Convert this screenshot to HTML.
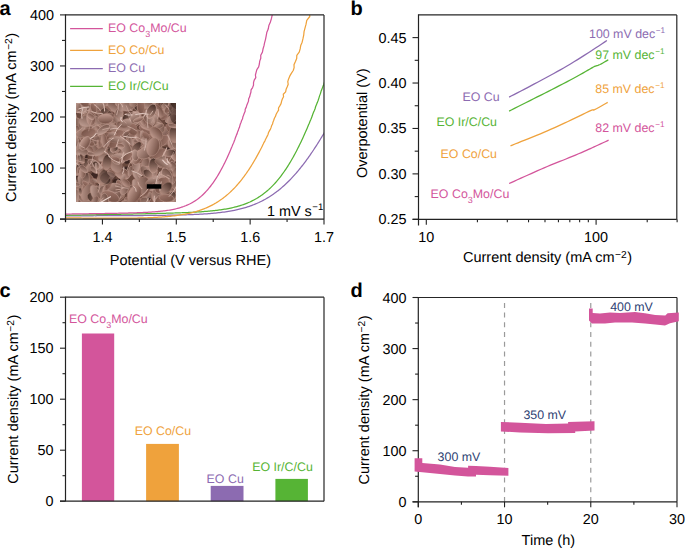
<!DOCTYPE html>
<html><head><meta charset="utf-8"><style>
html,body{margin:0;padding:0;background:#fff;}
svg{display:block;font-family:"Liberation Sans",sans-serif;text-rendering:geometricPrecision;}
</style></head><body>
<svg width="685" height="548" viewBox="0 0 685 548">
<defs>
<linearGradient id="sg0" x1="0" y1="0" x2="1" y2="1"><stop offset="0" stop-color="#624339"/><stop offset="1" stop-color="#c39f93"/></linearGradient><linearGradient id="sg1" x1="1" y1="0" x2="0" y2="1"><stop offset="0" stop-color="#6b4a3f"/><stop offset="1" stop-color="#cdaca1"/></linearGradient><linearGradient id="sg2" x1="0" y1="1" x2="1" y2="0"><stop offset="0" stop-color="#68483d"/><stop offset="1" stop-color="#ccaba0"/></linearGradient><linearGradient id="sg3" x1="0" y1="0" x2="1" y2="0"><stop offset="0" stop-color="#462f27"/><stop offset="1" stop-color="#b48e81"/></linearGradient><linearGradient id="sg4" x1="0" y1="0" x2="0" y2="1"><stop offset="0" stop-color="#724f44"/><stop offset="1" stop-color="#be998d"/></linearGradient><linearGradient id="sg5" x1="1" y1="1" x2="0" y2="0"><stop offset="0" stop-color="#704e43"/><stop offset="1" stop-color="#a1796d"/></linearGradient><clipPath id="clipsem"><rect x="76" y="103" width="100" height="99"/></clipPath>
<filter id="semblur" x="0" y="0" width="100%" height="100%"><feGaussianBlur stdDeviation="0.35"/></filter>
<clipPath id="clipa"><rect x="65.5" y="14.9" width="258.5" height="204.2"/></clipPath>

</defs>
<rect width="685" height="548" fill="#fff"/>
<text x="-0.60" y="15.20" font-size="20" text-anchor="start" fill="#000" font-weight="bold" >a</text>
<text x="350.40" y="14.80" font-size="20" text-anchor="start" fill="#000" font-weight="bold" >b</text>
<text x="-0.60" y="296.60" font-size="20" text-anchor="start" fill="#000" font-weight="bold" >c</text>
<text x="350.60" y="296.60" font-size="20" text-anchor="start" fill="#000" font-weight="bold" >d</text>
<g>
<g clip-path="url(#clipsem)" filter="url(#semblur)">
<rect x="76" y="103" width="100" height="99" fill="#69483e"/>
<ellipse cx="121.2" cy="158.4" rx="4.8" ry="2.4" fill="#3d2822"/>
<ellipse cx="126.8" cy="161.2" rx="2.6" ry="2.5" fill="#3d2822"/>
<ellipse cx="139.0" cy="181.5" rx="2.3" ry="2.1" fill="#3d2822"/>
<ellipse cx="85.1" cy="183.2" rx="4.1" ry="1.6" fill="#3d2822"/>
<ellipse cx="174.2" cy="198.5" rx="4.0" ry="2.7" fill="#3d2822"/>
<ellipse cx="91.7" cy="104.5" rx="3.6" ry="1.6" fill="#3d2822"/>
<ellipse cx="95.0" cy="127.0" rx="2.1" ry="2.4" fill="#3d2822"/>
<ellipse cx="120.1" cy="186.4" rx="3.6" ry="2.8" fill="#3d2822"/>
<ellipse cx="126.0" cy="168.6" rx="3.4" ry="2.1" fill="#3d2822"/>
<ellipse cx="175.8" cy="201.6" rx="4.5" ry="2.9" fill="#3d2822"/>
<ellipse cx="107.5" cy="125.7" rx="2.9" ry="1.6" fill="#3d2822"/>
<ellipse cx="152.6" cy="142.6" rx="4.5" ry="2.3" fill="#3d2822"/>
<ellipse cx="171.8" cy="186.9" rx="2.0" ry="1.9" fill="#3d2822"/>
<ellipse cx="167.0" cy="149.5" rx="4.9" ry="2.3" fill="#3d2822"/>
<ellipse cx="83.3" cy="165.3" rx="4.3" ry="2.0" fill="#3d2822"/>
<ellipse cx="84.7" cy="135.9" rx="4.9" ry="3.0" fill="#3d2822"/>
<ellipse cx="87.8" cy="127.4" rx="2.3" ry="1.6" fill="#3d2822"/>
<ellipse cx="155.7" cy="120.6" rx="3.7" ry="2.4" fill="#3d2822"/>
<ellipse cx="95.1" cy="175.5" rx="2.4" ry="2.8" fill="#3d2822"/>
<ellipse cx="87.7" cy="144.7" rx="2.6" ry="2.0" fill="#3d2822"/>
<ellipse cx="173.1" cy="182.5" rx="2.9" ry="3.3" fill="#3d2822"/>
<ellipse cx="97.1" cy="142.0" rx="4.6" ry="2.8" fill="#3d2822"/>
<ellipse cx="86.0" cy="200.9" rx="2.6" ry="2.0" fill="#3d2822"/>
<ellipse cx="153.3" cy="135.6" rx="2.9" ry="1.6" fill="#3d2822"/>
<ellipse cx="85.0" cy="160.7" rx="2.7" ry="2.7" fill="#3d2822"/>
<ellipse cx="113.2" cy="147.9" rx="4.9" ry="2.5" fill="#3d2822"/>
<ellipse cx="133.5" cy="188.8" rx="2.5" ry="1.8" fill="#3d2822"/>
<ellipse cx="166.8" cy="184.0" rx="2.7" ry="1.9" fill="#3d2822"/>
<ellipse cx="149.9" cy="196.1" rx="2.6" ry="3.4" fill="#3d2822"/>
<ellipse cx="164.2" cy="162.7" rx="3.3" ry="1.7" fill="#3d2822"/>
<ellipse cx="79.9" cy="198.3" rx="2.7" ry="2.9" fill="#3d2822"/>
<ellipse cx="101.7" cy="184.5" rx="3.8" ry="2.1" fill="#3d2822"/>
<ellipse cx="93.5" cy="174.3" rx="2.2" ry="2.0" fill="#3d2822"/>
<ellipse cx="131.9" cy="187.4" rx="3.8" ry="2.1" fill="#3d2822"/>
<ellipse cx="167.7" cy="123.2" rx="2.0" ry="2.0" fill="#3d2822"/>
<ellipse cx="120.6" cy="109.0" rx="2.5" ry="2.2" fill="#3d2822"/>
<ellipse cx="133.2" cy="116.0" rx="3.1" ry="3.3" fill="#3d2822"/>
<ellipse cx="174.0" cy="168.0" rx="4.1" ry="2.7" fill="#3d2822"/>
<ellipse cx="90.0" cy="106.5" rx="2.1" ry="3.3" fill="#3d2822"/>
<ellipse cx="146.1" cy="198.3" rx="2.1" ry="2.8" fill="#3d2822"/>
<ellipse cx="124.2" cy="175.3" rx="3.0" ry="3.5" fill="#3d2822"/>
<ellipse cx="83.5" cy="157.1" rx="4.2" ry="3.3" fill="#3d2822"/>
<ellipse cx="149.7" cy="172.7" rx="4.4" ry="3.3" fill="#3d2822"/>
<ellipse cx="111.2" cy="170.8" rx="4.7" ry="3.2" fill="#3d2822"/>
<ellipse cx="117.7" cy="181.3" rx="4.6" ry="2.6" fill="#3d2822"/>
<ellipse cx="139.5" cy="139.9" rx="7.0" ry="4.1" transform="rotate(14 139.5 139.9)" fill="url(#sg5)" stroke="#a0796c" stroke-width="0.5"/>
<ellipse cx="99.8" cy="143.5" rx="5.5" ry="3.7" transform="rotate(125 99.8 143.5)" fill="url(#sg3)" stroke="#b18a7e" stroke-width="0.5"/>
<ellipse cx="162.5" cy="108.0" rx="8.0" ry="3.3" transform="rotate(108 162.5 108.0)" fill="url(#sg3)" stroke="#9c7468" stroke-width="0.5"/>
<ellipse cx="175.4" cy="111.1" rx="8.2" ry="4.9" transform="rotate(88 175.4 111.1)" fill="url(#sg0)" stroke="#ad867a" stroke-width="0.5"/>
<ellipse cx="87.5" cy="164.5" rx="6.6" ry="4.1" transform="rotate(62 87.5 164.5)" fill="url(#sg3)" stroke="#b38d81" stroke-width="0.5"/>
<ellipse cx="98.1" cy="142.3" rx="5.0" ry="3.0" transform="rotate(145 98.1 142.3)" fill="url(#sg1)" stroke="#c7a498" stroke-width="0.5"/>
<ellipse cx="113.5" cy="161.4" rx="5.4" ry="2.4" transform="rotate(89 113.5 161.4)" fill="url(#sg0)" stroke="#be998e" stroke-width="0.5"/>
<ellipse cx="174.6" cy="128.6" rx="4.5" ry="2.4" transform="rotate(50 174.6 128.6)" fill="url(#sg1)" stroke="#c4a195" stroke-width="0.5"/>
<ellipse cx="113.3" cy="154.6" rx="7.5" ry="4.6" transform="rotate(152 113.3 154.6)" fill="url(#sg4)" stroke="#b18b7e" stroke-width="0.5"/>
<ellipse cx="80.1" cy="102.4" rx="8.7" ry="3.6" transform="rotate(128 80.1 102.4)" fill="url(#sg4)" stroke="#ac8579" stroke-width="0.5"/>
<ellipse cx="142.1" cy="159.4" rx="7.3" ry="3.8" transform="rotate(34 142.1 159.4)" fill="url(#sg2)" stroke="#a67f73" stroke-width="0.5"/>
<ellipse cx="87.2" cy="104.0" rx="7.3" ry="3.9" transform="rotate(113 87.2 104.0)" fill="url(#sg5)" stroke="#ba9589" stroke-width="0.5"/>
<ellipse cx="111.8" cy="107.3" rx="4.7" ry="3.0" transform="rotate(46 111.8 107.3)" fill="url(#sg5)" stroke="#9b7467" stroke-width="0.5"/>
<ellipse cx="123.0" cy="175.4" rx="4.6" ry="2.2" transform="rotate(62 123.0 175.4)" fill="url(#sg5)" stroke="#caa89d" stroke-width="0.5"/>
<ellipse cx="126.0" cy="205.7" rx="4.5" ry="2.9" transform="rotate(126 126.0 205.7)" fill="url(#sg1)" stroke="#9f786b" stroke-width="0.5"/>
<ellipse cx="172.7" cy="176.3" rx="4.3" ry="2.3" transform="rotate(113 172.7 176.3)" fill="url(#sg0)" stroke="#ad877a" stroke-width="0.5"/>
<ellipse cx="133.4" cy="193.1" rx="8.3" ry="5.7" transform="rotate(83 133.4 193.1)" fill="url(#sg5)" stroke="#ccaa9f" stroke-width="0.5"/>
<ellipse cx="82.7" cy="191.7" rx="8.3" ry="5.6" transform="rotate(22 82.7 191.7)" fill="url(#sg1)" stroke="#c7a59a" stroke-width="0.5"/>
<ellipse cx="177.9" cy="203.6" rx="6.7" ry="4.3" transform="rotate(58 177.9 203.6)" fill="url(#sg5)" stroke="#c5a297" stroke-width="0.5"/>
<ellipse cx="109.6" cy="107.9" rx="6.1" ry="3.5" transform="rotate(138 109.6 107.9)" fill="url(#sg3)" stroke="#c8a69b" stroke-width="0.5"/>
<ellipse cx="95.6" cy="191.8" rx="6.1" ry="2.5" transform="rotate(96 95.6 191.8)" fill="url(#sg5)" stroke="#c29e92" stroke-width="0.5"/>
<ellipse cx="87.2" cy="114.9" rx="6.6" ry="4.1" transform="rotate(151 87.2 114.9)" fill="url(#sg5)" stroke="#b18a7e" stroke-width="0.5"/>
<ellipse cx="167.0" cy="160.9" rx="7.6" ry="4.8" transform="rotate(79 167.0 160.9)" fill="url(#sg4)" stroke="#a98275" stroke-width="0.5"/>
<ellipse cx="150.7" cy="167.4" rx="6.6" ry="4.3" transform="rotate(101 150.7 167.4)" fill="url(#sg2)" stroke="#bc978b" stroke-width="0.5"/>
<ellipse cx="175.1" cy="192.1" rx="7.2" ry="3.5" transform="rotate(25 175.1 192.1)" fill="url(#sg4)" stroke="#b58f82" stroke-width="0.5"/>
<ellipse cx="133.9" cy="120.5" rx="6.7" ry="3.7" transform="rotate(109 133.9 120.5)" fill="url(#sg0)" stroke="#b58f83" stroke-width="0.5"/>
<ellipse cx="76.7" cy="197.2" rx="6.8" ry="4.7" transform="rotate(22 76.7 197.2)" fill="url(#sg0)" stroke="#bd988c" stroke-width="0.5"/>
<ellipse cx="79.1" cy="156.6" rx="6.0" ry="4.1" transform="rotate(166 79.1 156.6)" fill="url(#sg2)" stroke="#a78073" stroke-width="0.5"/>
<ellipse cx="125.2" cy="135.3" rx="8.9" ry="6.1" transform="rotate(166 125.2 135.3)" fill="url(#sg4)" stroke="#aa8377" stroke-width="0.5"/>
<ellipse cx="92.7" cy="165.1" rx="9.1" ry="4.0" transform="rotate(140 92.7 165.1)" fill="url(#sg0)" stroke="#9c7568" stroke-width="0.5"/>
<ellipse cx="88.8" cy="100.3" rx="5.2" ry="3.2" transform="rotate(44 88.8 100.3)" fill="url(#sg3)" stroke="#a0786c" stroke-width="0.5"/>
<ellipse cx="150.9" cy="112.1" rx="6.6" ry="3.1" transform="rotate(36 150.9 112.1)" fill="url(#sg4)" stroke="#c6a498" stroke-width="0.5"/>
<ellipse cx="74.5" cy="166.7" rx="8.5" ry="4.9" transform="rotate(97 74.5 166.7)" fill="url(#sg5)" stroke="#b58f83" stroke-width="0.5"/>
<ellipse cx="95.6" cy="122.1" rx="6.8" ry="3.9" transform="rotate(25 95.6 122.1)" fill="url(#sg5)" stroke="#ba9588" stroke-width="0.5"/>
<ellipse cx="109.5" cy="118.4" rx="7.1" ry="4.7" transform="rotate(35 109.5 118.4)" fill="url(#sg1)" stroke="#c7a499" stroke-width="0.5"/>
<ellipse cx="86.5" cy="124.6" rx="7.9" ry="3.8" transform="rotate(17 86.5 124.6)" fill="url(#sg3)" stroke="#b69083" stroke-width="0.5"/>
<ellipse cx="148.1" cy="120.5" rx="7.3" ry="4.6" transform="rotate(17 148.1 120.5)" fill="url(#sg4)" stroke="#bd988c" stroke-width="0.5"/>
<ellipse cx="170.4" cy="202.6" rx="4.2" ry="2.3" transform="rotate(136 170.4 202.6)" fill="url(#sg4)" stroke="#ccaba0" stroke-width="0.5"/>
<ellipse cx="162.0" cy="184.9" rx="6.4" ry="2.6" transform="rotate(137 162.0 184.9)" fill="url(#sg4)" stroke="#b48e82" stroke-width="0.5"/>
<ellipse cx="133.4" cy="114.7" rx="4.6" ry="2.1" transform="rotate(151 133.4 114.7)" fill="url(#sg2)" stroke="#c9a79b" stroke-width="0.5"/>
<ellipse cx="82.3" cy="105.6" rx="9.2" ry="5.0" transform="rotate(138 82.3 105.6)" fill="url(#sg2)" stroke="#ae877b" stroke-width="0.5"/>
<ellipse cx="118.1" cy="136.9" rx="4.8" ry="2.4" transform="rotate(114 118.1 136.9)" fill="url(#sg0)" stroke="#c5a196" stroke-width="0.5"/>
<ellipse cx="91.6" cy="147.6" rx="7.9" ry="4.1" transform="rotate(35 91.6 147.6)" fill="url(#sg1)" stroke="#9f786b" stroke-width="0.5"/>
<ellipse cx="157.6" cy="133.6" rx="4.0" ry="2.6" transform="rotate(158 157.6 133.6)" fill="url(#sg5)" stroke="#c9a79c" stroke-width="0.5"/>
<ellipse cx="133.5" cy="119.4" rx="7.0" ry="3.5" transform="rotate(137 133.5 119.4)" fill="url(#sg2)" stroke="#c8a69a" stroke-width="0.5"/>
<ellipse cx="152.4" cy="182.2" rx="8.4" ry="4.4" transform="rotate(161 152.4 182.2)" fill="url(#sg4)" stroke="#bd998d" stroke-width="0.5"/>
<ellipse cx="154.9" cy="180.9" rx="5.9" ry="3.7" transform="rotate(13 154.9 180.9)" fill="url(#sg2)" stroke="#aa8376" stroke-width="0.5"/>
<ellipse cx="82.9" cy="194.0" rx="9.4" ry="6.3" transform="rotate(9 82.9 194.0)" fill="url(#sg2)" stroke="#caa89c" stroke-width="0.5"/>
<ellipse cx="143.9" cy="135.1" rx="7.5" ry="4.3" transform="rotate(96 143.9 135.1)" fill="url(#sg3)" stroke="#b48e82" stroke-width="0.5"/>
<ellipse cx="125.7" cy="121.8" rx="4.2" ry="2.2" transform="rotate(103 125.7 121.8)" fill="url(#sg0)" stroke="#b99488" stroke-width="0.5"/>
<ellipse cx="151.8" cy="126.5" rx="5.9" ry="2.5" transform="rotate(35 151.8 126.5)" fill="url(#sg3)" stroke="#9b7467" stroke-width="0.5"/>
<ellipse cx="99.9" cy="128.5" rx="5.5" ry="3.1" transform="rotate(75 99.9 128.5)" fill="url(#sg4)" stroke="#b79185" stroke-width="0.5"/>
<ellipse cx="179.5" cy="167.3" rx="8.4" ry="3.5" transform="rotate(108 179.5 167.3)" fill="url(#sg0)" stroke="#ae877b" stroke-width="0.5"/>
<ellipse cx="173.4" cy="140.3" rx="9.3" ry="6.1" transform="rotate(98 173.4 140.3)" fill="url(#sg4)" stroke="#9d766a" stroke-width="0.5"/>
<ellipse cx="174.1" cy="144.0" rx="6.7" ry="3.9" transform="rotate(66 174.1 144.0)" fill="url(#sg2)" stroke="#b38c80" stroke-width="0.5"/>
<ellipse cx="101.1" cy="198.5" rx="7.5" ry="4.7" transform="rotate(5 101.1 198.5)" fill="url(#sg1)" stroke="#b89286" stroke-width="0.5"/>
<ellipse cx="140.4" cy="142.7" rx="7.6" ry="3.2" transform="rotate(57 140.4 142.7)" fill="url(#sg3)" stroke="#9d7669" stroke-width="0.5"/>
<ellipse cx="178.8" cy="200.1" rx="3.9" ry="2.6" transform="rotate(77 178.8 200.1)" fill="url(#sg3)" stroke="#a78073" stroke-width="0.5"/>
<ellipse cx="153.6" cy="103.9" rx="4.1" ry="2.6" transform="rotate(164 153.6 103.9)" fill="url(#sg1)" stroke="#cbaa9f" stroke-width="0.5"/>
<ellipse cx="160.2" cy="163.6" rx="4.2" ry="2.5" transform="rotate(82 160.2 163.6)" fill="url(#sg1)" stroke="#c6a397" stroke-width="0.5"/>
<ellipse cx="110.5" cy="115.6" rx="5.7" ry="2.5" transform="rotate(75 110.5 115.6)" fill="url(#sg4)" stroke="#a88074" stroke-width="0.5"/>
<ellipse cx="134.9" cy="143.9" rx="8.2" ry="4.6" transform="rotate(180 134.9 143.9)" fill="url(#sg2)" stroke="#bf9b8f" stroke-width="0.5"/>
<ellipse cx="97.7" cy="111.2" rx="8.9" ry="5.6" transform="rotate(112 97.7 111.2)" fill="url(#sg2)" stroke="#a88175" stroke-width="0.5"/>
<ellipse cx="137.9" cy="176.6" rx="7.7" ry="3.5" transform="rotate(50 137.9 176.6)" fill="url(#sg1)" stroke="#a47d70" stroke-width="0.5"/>
<ellipse cx="98.9" cy="203.8" rx="9.0" ry="6.0" transform="rotate(7 98.9 203.8)" fill="url(#sg0)" stroke="#9b7467" stroke-width="0.5"/>
<ellipse cx="100.0" cy="101.9" rx="3.7" ry="1.7" transform="rotate(50 100.0 101.9)" fill="url(#sg0)" stroke="#c8a69a" stroke-width="0.5"/>
<ellipse cx="89.4" cy="124.1" rx="9.4" ry="5.1" transform="rotate(64 89.4 124.1)" fill="url(#sg2)" stroke="#ac8578" stroke-width="0.5"/>
<ellipse cx="152.4" cy="188.7" rx="3.9" ry="1.7" transform="rotate(146 152.4 188.7)" fill="url(#sg4)" stroke="#c4a196" stroke-width="0.5"/>
<ellipse cx="155.0" cy="146.5" rx="8.0" ry="4.1" transform="rotate(27 155.0 146.5)" fill="url(#sg1)" stroke="#bb968a" stroke-width="0.5"/>
<ellipse cx="178.8" cy="133.8" rx="6.8" ry="4.2" transform="rotate(166 178.8 133.8)" fill="url(#sg3)" stroke="#bb968a" stroke-width="0.5"/>
<ellipse cx="134.7" cy="148.4" rx="5.4" ry="3.1" transform="rotate(78 134.7 148.4)" fill="url(#sg4)" stroke="#b38d80" stroke-width="0.5"/>
<ellipse cx="146.0" cy="131.0" rx="8.2" ry="3.4" transform="rotate(38 146.0 131.0)" fill="url(#sg5)" stroke="#b99387" stroke-width="0.5"/>
<ellipse cx="147.1" cy="151.9" rx="8.1" ry="4.0" transform="rotate(159 147.1 151.9)" fill="url(#sg1)" stroke="#ac8679" stroke-width="0.5"/>
<ellipse cx="150.4" cy="138.2" rx="4.2" ry="2.6" transform="rotate(102 150.4 138.2)" fill="url(#sg5)" stroke="#c8a69a" stroke-width="0.5"/>
<ellipse cx="119.3" cy="184.9" rx="5.3" ry="2.6" transform="rotate(72 119.3 184.9)" fill="url(#sg5)" stroke="#c7a599" stroke-width="0.5"/>
<ellipse cx="98.8" cy="137.7" rx="5.7" ry="2.9" transform="rotate(71 98.8 137.7)" fill="url(#sg3)" stroke="#c29f93" stroke-width="0.5"/>
<ellipse cx="151.8" cy="138.4" rx="5.8" ry="2.6" transform="rotate(106 151.8 138.4)" fill="url(#sg1)" stroke="#a37c6f" stroke-width="0.5"/>
<ellipse cx="154.0" cy="193.3" rx="5.2" ry="2.1" transform="rotate(93 154.0 193.3)" fill="url(#sg4)" stroke="#a27b6f" stroke-width="0.5"/>
<ellipse cx="104.0" cy="101.4" rx="8.6" ry="4.5" transform="rotate(105 104.0 101.4)" fill="url(#sg2)" stroke="#c29e92" stroke-width="0.5"/>
<ellipse cx="81.1" cy="107.7" rx="7.9" ry="5.3" transform="rotate(15 81.1 107.7)" fill="url(#sg5)" stroke="#bb968a" stroke-width="0.5"/>
<ellipse cx="82.5" cy="186.3" rx="6.0" ry="3.7" transform="rotate(88 82.5 186.3)" fill="url(#sg4)" stroke="#ab8578" stroke-width="0.5"/>
<ellipse cx="121.6" cy="136.5" rx="8.3" ry="4.2" transform="rotate(25 121.6 136.5)" fill="url(#sg3)" stroke="#b58f83" stroke-width="0.5"/>
<ellipse cx="149.9" cy="174.8" rx="9.0" ry="4.7" transform="rotate(149 149.9 174.8)" fill="url(#sg5)" stroke="#ac8579" stroke-width="0.5"/>
<ellipse cx="72.4" cy="139.4" rx="4.0" ry="2.2" transform="rotate(97 72.4 139.4)" fill="url(#sg0)" stroke="#b58f82" stroke-width="0.5"/>
<ellipse cx="148.7" cy="184.8" rx="6.0" ry="3.2" transform="rotate(26 148.7 184.8)" fill="url(#sg5)" stroke="#a37b6f" stroke-width="0.5"/>
<ellipse cx="140.6" cy="172.2" rx="5.4" ry="2.8" transform="rotate(95 140.6 172.2)" fill="url(#sg2)" stroke="#cba99e" stroke-width="0.5"/>
<ellipse cx="78.4" cy="132.0" rx="4.2" ry="2.5" transform="rotate(140 78.4 132.0)" fill="url(#sg1)" stroke="#c8a69a" stroke-width="0.5"/>
<ellipse cx="153.3" cy="100.8" rx="6.4" ry="4.1" transform="rotate(56 153.3 100.8)" fill="url(#sg1)" stroke="#a47c70" stroke-width="0.5"/>
<ellipse cx="95.5" cy="124.2" rx="7.8" ry="4.5" transform="rotate(40 95.5 124.2)" fill="url(#sg1)" stroke="#c7a599" stroke-width="0.5"/>
<ellipse cx="115.5" cy="196.4" rx="9.1" ry="5.4" transform="rotate(170 115.5 196.4)" fill="url(#sg4)" stroke="#b28c80" stroke-width="0.5"/>
<ellipse cx="100.1" cy="194.0" rx="9.0" ry="4.5" transform="rotate(99 100.1 194.0)" fill="url(#sg0)" stroke="#b38c80" stroke-width="0.5"/>
<ellipse cx="95.9" cy="104.3" rx="9.2" ry="5.9" transform="rotate(69 95.9 104.3)" fill="url(#sg4)" stroke="#c29e93" stroke-width="0.5"/>
<ellipse cx="155.6" cy="183.3" rx="3.8" ry="2.6" transform="rotate(161 155.6 183.3)" fill="url(#sg3)" stroke="#c8a59a" stroke-width="0.5"/>
<ellipse cx="120.6" cy="125.4" rx="6.0" ry="4.0" transform="rotate(75 120.6 125.4)" fill="url(#sg2)" stroke="#a27a6e" stroke-width="0.5"/>
<ellipse cx="170.1" cy="185.7" rx="4.3" ry="2.7" transform="rotate(112 170.1 185.7)" fill="url(#sg4)" stroke="#b58f83" stroke-width="0.5"/>
<ellipse cx="88.3" cy="181.4" rx="3.5" ry="2.3" transform="rotate(152 88.3 181.4)" fill="url(#sg1)" stroke="#9f776b" stroke-width="0.5"/>
<ellipse cx="101.2" cy="175.7" rx="4.1" ry="2.2" transform="rotate(84 101.2 175.7)" fill="url(#sg5)" stroke="#b89286" stroke-width="0.5"/>
<ellipse cx="164.6" cy="131.5" rx="8.2" ry="4.3" transform="rotate(165 164.6 131.5)" fill="url(#sg0)" stroke="#c29e92" stroke-width="0.5"/>
<ellipse cx="119.5" cy="103.0" rx="6.0" ry="3.3" transform="rotate(170 119.5 103.0)" fill="url(#sg2)" stroke="#aa8377" stroke-width="0.5"/>
<ellipse cx="115.8" cy="158.5" rx="9.5" ry="5.7" transform="rotate(12 115.8 158.5)" fill="url(#sg0)" stroke="#bd988c" stroke-width="0.5"/>
<ellipse cx="83.4" cy="141.2" rx="6.3" ry="4.3" transform="rotate(149 83.4 141.2)" fill="url(#sg5)" stroke="#b18a7e" stroke-width="0.5"/>
<ellipse cx="165.3" cy="175.2" rx="6.4" ry="3.1" transform="rotate(20 165.3 175.2)" fill="url(#sg0)" stroke="#c5a297" stroke-width="0.5"/>
<ellipse cx="163.2" cy="176.0" rx="8.9" ry="4.0" transform="rotate(113 163.2 176.0)" fill="url(#sg4)" stroke="#c09c90" stroke-width="0.5"/>
<ellipse cx="175.0" cy="179.8" rx="6.8" ry="2.9" transform="rotate(34 175.0 179.8)" fill="url(#sg3)" stroke="#bf9b8f" stroke-width="0.5"/>
<ellipse cx="107.6" cy="200.1" rx="6.9" ry="4.2" transform="rotate(60 107.6 200.1)" fill="url(#sg3)" stroke="#9f786b" stroke-width="0.5"/>
<ellipse cx="87.2" cy="109.1" rx="7.6" ry="4.6" transform="rotate(32 87.2 109.1)" fill="url(#sg3)" stroke="#9c7568" stroke-width="0.5"/>
<ellipse cx="122.0" cy="174.3" rx="4.1" ry="1.7" transform="rotate(178 122.0 174.3)" fill="url(#sg3)" stroke="#af887c" stroke-width="0.5"/>
<ellipse cx="79.8" cy="197.5" rx="6.1" ry="3.4" transform="rotate(117 79.8 197.5)" fill="url(#sg1)" stroke="#c4a094" stroke-width="0.5"/>
<ellipse cx="113.7" cy="134.5" rx="6.0" ry="2.4" transform="rotate(72 113.7 134.5)" fill="url(#sg5)" stroke="#aa8377" stroke-width="0.5"/>
<ellipse cx="157.2" cy="125.2" rx="9.4" ry="5.3" transform="rotate(47 157.2 125.2)" fill="url(#sg1)" stroke="#ac8578" stroke-width="0.5"/>
<ellipse cx="142.3" cy="110.4" rx="5.8" ry="3.2" transform="rotate(142 142.3 110.4)" fill="url(#sg0)" stroke="#b99488" stroke-width="0.5"/>
<ellipse cx="89.1" cy="181.0" rx="8.9" ry="5.0" transform="rotate(63 89.1 181.0)" fill="url(#sg4)" stroke="#b48e82" stroke-width="0.5"/>
<ellipse cx="134.0" cy="120.2" rx="9.1" ry="6.4" transform="rotate(127 134.0 120.2)" fill="url(#sg1)" stroke="#b79185" stroke-width="0.5"/>
<ellipse cx="74.9" cy="169.6" rx="8.2" ry="3.6" transform="rotate(86 74.9 169.6)" fill="url(#sg3)" stroke="#bd998d" stroke-width="0.5"/>
<ellipse cx="107.6" cy="198.4" rx="5.7" ry="3.1" transform="rotate(22 107.6 198.4)" fill="url(#sg5)" stroke="#a17a6d" stroke-width="0.5"/>
<ellipse cx="169.6" cy="157.1" rx="6.9" ry="3.9" transform="rotate(48 169.6 157.1)" fill="url(#sg5)" stroke="#ccaba0" stroke-width="0.5"/>
<ellipse cx="160.3" cy="163.4" rx="4.2" ry="2.7" transform="rotate(52 160.3 163.4)" fill="url(#sg2)" stroke="#a77f73" stroke-width="0.5"/>
<ellipse cx="133.9" cy="187.9" rx="4.6" ry="2.6" transform="rotate(14 133.9 187.9)" fill="url(#sg0)" stroke="#af887c" stroke-width="0.5"/>
<ellipse cx="156.5" cy="198.5" rx="9.5" ry="4.2" transform="rotate(136 156.5 198.5)" fill="url(#sg5)" stroke="#c8a59a" stroke-width="0.5"/>
<ellipse cx="138.4" cy="167.5" rx="8.1" ry="3.6" transform="rotate(74 138.4 167.5)" fill="url(#sg0)" stroke="#a27a6e" stroke-width="0.5"/>
<ellipse cx="113.7" cy="159.9" rx="4.5" ry="2.5" transform="rotate(47 113.7 159.9)" fill="url(#sg4)" stroke="#c9a79c" stroke-width="0.5"/>
<ellipse cx="77.8" cy="182.9" rx="7.8" ry="5.0" transform="rotate(73 77.8 182.9)" fill="url(#sg3)" stroke="#b99387" stroke-width="0.5"/>
<ellipse cx="122.8" cy="143.0" rx="7.2" ry="4.4" transform="rotate(136 122.8 143.0)" fill="url(#sg2)" stroke="#b38d80" stroke-width="0.5"/>
<ellipse cx="179.4" cy="188.7" rx="8.6" ry="4.5" transform="rotate(78 179.4 188.7)" fill="url(#sg4)" stroke="#a0796c" stroke-width="0.5"/>
<ellipse cx="173.4" cy="134.3" rx="6.6" ry="3.5" transform="rotate(4 173.4 134.3)" fill="url(#sg0)" stroke="#a98276" stroke-width="0.5"/>
<ellipse cx="138.6" cy="145.4" rx="5.8" ry="2.9" transform="rotate(142 138.6 145.4)" fill="url(#sg4)" stroke="#c6a498" stroke-width="0.5"/>
<ellipse cx="98.4" cy="189.3" rx="5.0" ry="3.3" transform="rotate(175 98.4 189.3)" fill="url(#sg3)" stroke="#bd998d" stroke-width="0.5"/>
<ellipse cx="128.8" cy="124.6" rx="5.3" ry="2.8" transform="rotate(42 128.8 124.6)" fill="url(#sg0)" stroke="#ccaba0" stroke-width="0.5"/>
<ellipse cx="150.9" cy="192.2" rx="5.7" ry="3.2" transform="rotate(102 150.9 192.2)" fill="url(#sg1)" stroke="#a67e72" stroke-width="0.5"/>
<ellipse cx="152.6" cy="159.6" rx="8.9" ry="3.8" transform="rotate(143 152.6 159.6)" fill="url(#sg0)" stroke="#c7a498" stroke-width="0.5"/>
<ellipse cx="134.2" cy="147.5" rx="5.3" ry="3.3" transform="rotate(4 134.2 147.5)" fill="url(#sg1)" stroke="#9e766a" stroke-width="0.5"/>
<ellipse cx="168.7" cy="186.3" rx="5.9" ry="3.0" transform="rotate(105 168.7 186.3)" fill="url(#sg0)" stroke="#aa8376" stroke-width="0.5"/>
<ellipse cx="121.1" cy="132.6" rx="5.4" ry="2.4" transform="rotate(140 121.1 132.6)" fill="url(#sg3)" stroke="#c6a498" stroke-width="0.5"/>
<ellipse cx="93.9" cy="190.9" rx="7.7" ry="3.2" transform="rotate(57 93.9 190.9)" fill="url(#sg2)" stroke="#c7a599" stroke-width="0.5"/>
<ellipse cx="73.7" cy="167.0" rx="7.7" ry="4.4" transform="rotate(96 73.7 167.0)" fill="url(#sg1)" stroke="#a47d70" stroke-width="0.5"/>
<ellipse cx="167.1" cy="104.4" rx="4.1" ry="2.6" transform="rotate(56 167.1 104.4)" fill="url(#sg2)" stroke="#c6a398" stroke-width="0.5"/>
<ellipse cx="149.0" cy="113.4" rx="7.7" ry="5.2" transform="rotate(80 149.0 113.4)" fill="url(#sg0)" stroke="#a37c6f" stroke-width="0.5"/>
<ellipse cx="165.0" cy="111.9" rx="7.6" ry="3.7" transform="rotate(130 165.0 111.9)" fill="url(#sg4)" stroke="#bc978b" stroke-width="0.5"/>
<ellipse cx="157.4" cy="138.9" rx="7.5" ry="5.0" transform="rotate(106 157.4 138.9)" fill="url(#sg1)" stroke="#cbaa9f" stroke-width="0.5"/>
<ellipse cx="168.7" cy="118.3" rx="4.9" ry="2.1" transform="rotate(120 168.7 118.3)" fill="url(#sg3)" stroke="#ccaa9f" stroke-width="0.5"/>
<ellipse cx="119.6" cy="155.5" rx="6.7" ry="2.8" transform="rotate(108 119.6 155.5)" fill="url(#sg2)" stroke="#b58f83" stroke-width="0.5"/>
<ellipse cx="117.7" cy="159.8" rx="4.5" ry="3.1" transform="rotate(34 117.7 159.8)" fill="url(#sg1)" stroke="#a88175" stroke-width="0.5"/>
<ellipse cx="131.2" cy="118.9" rx="8.9" ry="6.2" transform="rotate(6 131.2 118.9)" fill="url(#sg3)" stroke="#c8a69b" stroke-width="0.5"/>
<ellipse cx="135.2" cy="99.3" rx="8.8" ry="3.7" transform="rotate(12 135.2 99.3)" fill="url(#sg5)" stroke="#c8a69a" stroke-width="0.5"/>
<ellipse cx="106.6" cy="150.7" rx="3.7" ry="1.8" transform="rotate(149 106.6 150.7)" fill="url(#sg5)" stroke="#bd988c" stroke-width="0.5"/>
<ellipse cx="128.2" cy="200.8" rx="4.5" ry="2.9" transform="rotate(30 128.2 200.8)" fill="url(#sg4)" stroke="#b08a7d" stroke-width="0.5"/>
<ellipse cx="144.2" cy="157.6" rx="5.0" ry="3.1" transform="rotate(130 144.2 157.6)" fill="url(#sg2)" stroke="#b38d80" stroke-width="0.5"/>
<ellipse cx="95.9" cy="161.1" rx="6.5" ry="2.7" transform="rotate(107 95.9 161.1)" fill="url(#sg5)" stroke="#9d7669" stroke-width="0.5"/>
<ellipse cx="120.4" cy="193.2" rx="5.5" ry="3.2" transform="rotate(110 120.4 193.2)" fill="url(#sg3)" stroke="#b48e81" stroke-width="0.5"/>
<ellipse cx="150.1" cy="190.7" rx="3.7" ry="1.6" transform="rotate(32 150.1 190.7)" fill="url(#sg5)" stroke="#b69083" stroke-width="0.5"/>
<ellipse cx="157.5" cy="124.5" rx="4.4" ry="2.2" transform="rotate(8 157.5 124.5)" fill="url(#sg2)" stroke="#c3a094" stroke-width="0.5"/>
<ellipse cx="151.8" cy="182.5" rx="8.1" ry="4.4" transform="rotate(117 151.8 182.5)" fill="url(#sg4)" stroke="#a37c6f" stroke-width="0.5"/>
<ellipse cx="99.5" cy="116.1" rx="7.6" ry="5.0" transform="rotate(142 99.5 116.1)" fill="url(#sg0)" stroke="#aa8377" stroke-width="0.5"/>
<ellipse cx="122.4" cy="173.8" rx="7.7" ry="5.3" transform="rotate(23 122.4 173.8)" fill="url(#sg4)" stroke="#ccaa9f" stroke-width="0.5"/>
<ellipse cx="87.6" cy="147.7" rx="8.0" ry="3.3" transform="rotate(43 87.6 147.7)" fill="url(#sg4)" stroke="#a27a6e" stroke-width="0.5"/>
<ellipse cx="114.4" cy="130.9" rx="6.0" ry="2.6" transform="rotate(6 114.4 130.9)" fill="url(#sg5)" stroke="#c19d91" stroke-width="0.5"/>
<ellipse cx="151.3" cy="123.6" rx="5.0" ry="2.8" transform="rotate(44 151.3 123.6)" fill="url(#sg3)" stroke="#9f776b" stroke-width="0.5"/>
<ellipse cx="96.5" cy="132.0" rx="9.2" ry="6.2" transform="rotate(39 96.5 132.0)" fill="url(#sg1)" stroke="#af887c" stroke-width="0.5"/>
<ellipse cx="142.2" cy="105.3" rx="5.6" ry="3.4" transform="rotate(156 142.2 105.3)" fill="url(#sg4)" stroke="#c9a69b" stroke-width="0.5"/>
<ellipse cx="91.1" cy="191.0" rx="9.1" ry="4.2" transform="rotate(68 91.1 191.0)" fill="url(#sg0)" stroke="#a57e71" stroke-width="0.5"/>
<ellipse cx="109.5" cy="118.6" rx="6.8" ry="3.1" transform="rotate(37 109.5 118.6)" fill="url(#sg1)" stroke="#b89386" stroke-width="0.5"/>
<ellipse cx="154.0" cy="149.6" rx="6.4" ry="3.8" transform="rotate(33 154.0 149.6)" fill="url(#sg3)" stroke="#a57d71" stroke-width="0.5"/>
<ellipse cx="113.4" cy="106.8" rx="7.6" ry="3.9" transform="rotate(49 113.4 106.8)" fill="url(#sg0)" stroke="#b48e82" stroke-width="0.5"/>
<ellipse cx="152.1" cy="153.8" rx="6.9" ry="4.1" transform="rotate(39 152.1 153.8)" fill="url(#sg0)" stroke="#ad8679" stroke-width="0.5"/>
<ellipse cx="88.6" cy="199.2" rx="5.7" ry="3.6" transform="rotate(130 88.6 199.2)" fill="url(#sg0)" stroke="#9c7468" stroke-width="0.5"/>
<ellipse cx="106.8" cy="140.1" rx="4.0" ry="2.7" transform="rotate(59 106.8 140.1)" fill="url(#sg4)" stroke="#bc978b" stroke-width="0.5"/>
<ellipse cx="104.6" cy="164.0" rx="6.4" ry="2.9" transform="rotate(93 104.6 164.0)" fill="url(#sg1)" stroke="#9c7568" stroke-width="0.5"/>
<ellipse cx="105.7" cy="144.4" rx="6.8" ry="3.0" transform="rotate(127 105.7 144.4)" fill="url(#sg2)" stroke="#aa8377" stroke-width="0.5"/>
<ellipse cx="120.8" cy="139.3" rx="8.8" ry="5.7" transform="rotate(96 120.8 139.3)" fill="url(#sg3)" stroke="#af887c" stroke-width="0.5"/>
<ellipse cx="113.7" cy="191.7" rx="4.9" ry="2.4" transform="rotate(62 113.7 191.7)" fill="url(#sg1)" stroke="#a27a6e" stroke-width="0.5"/>
<ellipse cx="163.6" cy="178.9" rx="6.4" ry="2.6" transform="rotate(137 163.6 178.9)" fill="url(#sg5)" stroke="#a98276" stroke-width="0.5"/>
<ellipse cx="144.4" cy="197.3" rx="4.8" ry="2.9" transform="rotate(120 144.4 197.3)" fill="url(#sg2)" stroke="#a67f72" stroke-width="0.5"/>
<ellipse cx="140.3" cy="108.6" rx="6.1" ry="3.1" transform="rotate(11 140.3 108.6)" fill="url(#sg3)" stroke="#c9a79c" stroke-width="0.5"/>
<ellipse cx="102.7" cy="174.3" rx="4.8" ry="3.3" transform="rotate(36 102.7 174.3)" fill="url(#sg1)" stroke="#ac8579" stroke-width="0.5"/>
<ellipse cx="148.9" cy="154.7" rx="8.0" ry="5.3" transform="rotate(145 148.9 154.7)" fill="url(#sg3)" stroke="#b89286" stroke-width="0.5"/>
<ellipse cx="147.7" cy="158.2" rx="7.7" ry="3.1" transform="rotate(70 147.7 158.2)" fill="url(#sg2)" stroke="#c8a69a" stroke-width="0.5"/>
<ellipse cx="170.5" cy="128.1" rx="5.8" ry="3.8" transform="rotate(54 170.5 128.1)" fill="url(#sg5)" stroke="#ab8477" stroke-width="0.5"/>
<ellipse cx="99.4" cy="101.5" rx="5.6" ry="3.7" transform="rotate(102 99.4 101.5)" fill="url(#sg2)" stroke="#c3a094" stroke-width="0.5"/>
<ellipse cx="167.8" cy="167.7" rx="5.8" ry="2.9" transform="rotate(162 167.8 167.7)" fill="url(#sg0)" stroke="#b79285" stroke-width="0.5"/>
<ellipse cx="173.8" cy="181.5" rx="7.3" ry="4.3" transform="rotate(74 173.8 181.5)" fill="url(#sg3)" stroke="#9e766a" stroke-width="0.5"/>
<ellipse cx="79.4" cy="148.6" rx="6.2" ry="4.3" transform="rotate(69 79.4 148.6)" fill="url(#sg1)" stroke="#bd988c" stroke-width="0.5"/>
<ellipse cx="101.5" cy="152.0" rx="6.3" ry="2.6" transform="rotate(109 101.5 152.0)" fill="url(#sg2)" stroke="#a67f72" stroke-width="0.5"/>
<ellipse cx="145.5" cy="124.1" rx="3.5" ry="2.0" transform="rotate(71 145.5 124.1)" fill="url(#sg1)" stroke="#b69084" stroke-width="0.5"/>
<ellipse cx="163.7" cy="180.9" rx="4.0" ry="2.6" transform="rotate(159 163.7 180.9)" fill="url(#sg5)" stroke="#cba99e" stroke-width="0.5"/>
<ellipse cx="108.0" cy="136.1" rx="8.8" ry="4.4" transform="rotate(129 108.0 136.1)" fill="url(#sg5)" stroke="#ae887b" stroke-width="0.5"/>
<ellipse cx="88.9" cy="119.6" rx="4.5" ry="2.2" transform="rotate(124 88.9 119.6)" fill="url(#sg4)" stroke="#a98276" stroke-width="0.5"/>
<ellipse cx="116.8" cy="138.3" rx="7.5" ry="4.1" transform="rotate(116 116.8 138.3)" fill="url(#sg2)" stroke="#ab8477" stroke-width="0.5"/>
<ellipse cx="91.2" cy="154.0" rx="4.3" ry="1.8" transform="rotate(12 91.2 154.0)" fill="url(#sg0)" stroke="#c7a499" stroke-width="0.5"/>
<ellipse cx="105.5" cy="189.8" rx="6.6" ry="4.0" transform="rotate(7 105.5 189.8)" fill="url(#sg4)" stroke="#c6a397" stroke-width="0.5"/>
<ellipse cx="165.9" cy="104.7" rx="5.0" ry="2.8" transform="rotate(143 165.9 104.7)" fill="url(#sg3)" stroke="#a78073" stroke-width="0.5"/>
<ellipse cx="140.6" cy="138.3" rx="7.6" ry="3.5" transform="rotate(154 140.6 138.3)" fill="url(#sg1)" stroke="#c5a196" stroke-width="0.5"/>
<ellipse cx="161.5" cy="159.7" rx="6.0" ry="3.7" transform="rotate(112 161.5 159.7)" fill="url(#sg2)" stroke="#c39f93" stroke-width="0.5"/>
<ellipse cx="85.5" cy="139.3" rx="7.5" ry="3.5" transform="rotate(33 85.5 139.3)" fill="url(#sg0)" stroke="#b28c7f" stroke-width="0.5"/>
<ellipse cx="146.9" cy="183.6" rx="9.1" ry="4.4" transform="rotate(49 146.9 183.6)" fill="url(#sg2)" stroke="#ba9589" stroke-width="0.5"/>
<ellipse cx="114.8" cy="198.9" rx="9.4" ry="3.9" transform="rotate(128 114.8 198.9)" fill="url(#sg0)" stroke="#c6a398" stroke-width="0.5"/>
<ellipse cx="92.9" cy="137.1" rx="6.7" ry="4.3" transform="rotate(73 92.9 137.1)" fill="url(#sg0)" stroke="#c4a195" stroke-width="0.5"/>
<ellipse cx="164.4" cy="117.3" rx="3.9" ry="2.1" transform="rotate(157 164.4 117.3)" fill="url(#sg5)" stroke="#a98275" stroke-width="0.5"/>
<ellipse cx="114.3" cy="165.1" rx="8.1" ry="5.6" transform="rotate(70 114.3 165.1)" fill="url(#sg5)" stroke="#a57e72" stroke-width="0.5"/>
<ellipse cx="102.5" cy="191.7" rx="6.2" ry="4.0" transform="rotate(100 102.5 191.7)" fill="url(#sg2)" stroke="#c7a498" stroke-width="0.5"/>
<ellipse cx="118.7" cy="115.2" rx="8.8" ry="4.2" transform="rotate(102 118.7 115.2)" fill="url(#sg2)" stroke="#ba9488" stroke-width="0.5"/>
<ellipse cx="101.6" cy="123.3" rx="6.4" ry="3.3" transform="rotate(47 101.6 123.3)" fill="url(#sg0)" stroke="#a27b6e" stroke-width="0.5"/>
<ellipse cx="72.8" cy="180.4" rx="7.5" ry="3.0" transform="rotate(61 72.8 180.4)" fill="url(#sg1)" stroke="#ccaba0" stroke-width="0.5"/>
<ellipse cx="93.8" cy="191.8" rx="6.4" ry="3.4" transform="rotate(145 93.8 191.8)" fill="url(#sg3)" stroke="#b69184" stroke-width="0.5"/>
<ellipse cx="95.2" cy="165.0" rx="8.5" ry="4.0" transform="rotate(34 95.2 165.0)" fill="url(#sg2)" stroke="#c6a397" stroke-width="0.5"/>
<ellipse cx="179.4" cy="146.4" rx="8.5" ry="5.3" transform="rotate(32 179.4 146.4)" fill="url(#sg0)" stroke="#caa89d" stroke-width="0.5"/>
<ellipse cx="130.2" cy="171.2" rx="5.1" ry="2.1" transform="rotate(100 130.2 171.2)" fill="url(#sg0)" stroke="#b48e82" stroke-width="0.5"/>
<ellipse cx="73.1" cy="121.5" rx="9.3" ry="3.7" transform="rotate(95 73.1 121.5)" fill="url(#sg1)" stroke="#c29e93" stroke-width="0.5"/>
<ellipse cx="151.4" cy="141.7" rx="8.3" ry="5.4" transform="rotate(138 151.4 141.7)" fill="url(#sg0)" stroke="#c9a79c" stroke-width="0.5"/>
<ellipse cx="124.1" cy="188.9" rx="6.0" ry="4.0" transform="rotate(112 124.1 188.9)" fill="url(#sg0)" stroke="#b79285" stroke-width="0.5"/>
<ellipse cx="96.5" cy="140.6" rx="5.7" ry="3.4" transform="rotate(146 96.5 140.6)" fill="url(#sg2)" stroke="#ba9588" stroke-width="0.5"/>
<ellipse cx="120.6" cy="132.4" rx="3.9" ry="2.3" transform="rotate(107 120.6 132.4)" fill="url(#sg2)" stroke="#ab8478" stroke-width="0.5"/>
<ellipse cx="152.1" cy="121.6" rx="8.0" ry="4.5" transform="rotate(122 152.1 121.6)" fill="url(#sg1)" stroke="#ac8578" stroke-width="0.5"/>
<ellipse cx="88.8" cy="138.9" rx="4.6" ry="1.9" transform="rotate(72 88.8 138.9)" fill="url(#sg0)" stroke="#af887c" stroke-width="0.5"/>
<ellipse cx="106.7" cy="156.5" rx="9.2" ry="4.3" transform="rotate(158 106.7 156.5)" fill="url(#sg2)" stroke="#9e776a" stroke-width="0.5"/>
<ellipse cx="135.6" cy="160.9" rx="5.4" ry="2.9" transform="rotate(169 135.6 160.9)" fill="url(#sg3)" stroke="#af887c" stroke-width="0.5"/>
<ellipse cx="148.3" cy="118.0" rx="5.1" ry="3.1" transform="rotate(171 148.3 118.0)" fill="url(#sg2)" stroke="#c7a498" stroke-width="0.5"/>
<ellipse cx="156.0" cy="155.2" rx="3.6" ry="2.2" transform="rotate(119 156.0 155.2)" fill="url(#sg5)" stroke="#9d7669" stroke-width="0.5"/>
<ellipse cx="138.6" cy="135.9" rx="6.1" ry="3.8" transform="rotate(76 138.6 135.9)" fill="url(#sg4)" stroke="#c9a69b" stroke-width="0.5"/>
<ellipse cx="85.1" cy="178.0" rx="8.0" ry="4.2" transform="rotate(84 85.1 178.0)" fill="url(#sg3)" stroke="#b48d81" stroke-width="0.5"/>
<ellipse cx="112.5" cy="156.9" rx="3.8" ry="2.5" transform="rotate(95 112.5 156.9)" fill="url(#sg3)" stroke="#b18a7e" stroke-width="0.5"/>
<ellipse cx="136.1" cy="162.6" rx="9.1" ry="4.1" transform="rotate(84 136.1 162.6)" fill="url(#sg2)" stroke="#bf9b8f" stroke-width="0.5"/>
<ellipse cx="105.8" cy="177.8" rx="9.4" ry="4.9" transform="rotate(156 105.8 177.8)" fill="url(#sg1)" stroke="#c09c90" stroke-width="0.5"/>
<ellipse cx="168.9" cy="110.9" rx="4.6" ry="3.1" transform="rotate(142 168.9 110.9)" fill="url(#sg1)" stroke="#c4a195" stroke-width="0.5"/>
<ellipse cx="158.1" cy="153.7" rx="9.5" ry="4.0" transform="rotate(157 158.1 153.7)" fill="url(#sg5)" stroke="#ac8578" stroke-width="0.5"/>
<ellipse cx="127.9" cy="136.3" rx="4.7" ry="1.9" transform="rotate(77 127.9 136.3)" fill="url(#sg3)" stroke="#a88175" stroke-width="0.5"/>
<ellipse cx="141.5" cy="106.9" rx="6.8" ry="4.3" transform="rotate(88 141.5 106.9)" fill="url(#sg1)" stroke="#9e776a" stroke-width="0.5"/>
<ellipse cx="125.6" cy="105.0" rx="8.7" ry="6.0" transform="rotate(12 125.6 105.0)" fill="url(#sg1)" stroke="#c39f94" stroke-width="0.5"/>
<ellipse cx="91.3" cy="134.7" rx="9.1" ry="6.2" transform="rotate(40 91.3 134.7)" fill="url(#sg2)" stroke="#a0796c" stroke-width="0.5"/>
<ellipse cx="91.6" cy="140.6" rx="8.6" ry="5.0" transform="rotate(162 91.6 140.6)" fill="url(#sg0)" stroke="#9f786b" stroke-width="0.5"/>
<ellipse cx="142.1" cy="156.0" rx="5.4" ry="3.7" transform="rotate(175 142.1 156.0)" fill="url(#sg4)" stroke="#bc978b" stroke-width="0.5"/>
<ellipse cx="118.5" cy="100.6" rx="5.5" ry="2.7" transform="rotate(113 118.5 100.6)" fill="url(#sg2)" stroke="#bb968a" stroke-width="0.5"/>
<ellipse cx="94.5" cy="121.4" rx="8.1" ry="3.7" transform="rotate(104 94.5 121.4)" fill="url(#sg0)" stroke="#a17a6d" stroke-width="0.5"/>
<ellipse cx="84.5" cy="199.7" rx="7.2" ry="3.6" transform="rotate(35 84.5 199.7)" fill="url(#sg0)" stroke="#bd988c" stroke-width="0.5"/>
<ellipse cx="151.5" cy="137.6" rx="5.4" ry="2.8" transform="rotate(26 151.5 137.6)" fill="url(#sg5)" stroke="#a88174" stroke-width="0.5"/>
<ellipse cx="112.5" cy="164.6" rx="5.2" ry="2.3" transform="rotate(22 112.5 164.6)" fill="url(#sg0)" stroke="#ac8578" stroke-width="0.5"/>
<ellipse cx="148.0" cy="124.2" rx="7.0" ry="3.4" transform="rotate(157 148.0 124.2)" fill="url(#sg2)" stroke="#caa89d" stroke-width="0.5"/>
<ellipse cx="80.4" cy="168.4" rx="4.9" ry="2.6" transform="rotate(36 80.4 168.4)" fill="url(#sg3)" stroke="#b99387" stroke-width="0.5"/>
<ellipse cx="120.4" cy="105.9" rx="6.0" ry="2.9" transform="rotate(79 120.4 105.9)" fill="url(#sg2)" stroke="#a98276" stroke-width="0.5"/>
<ellipse cx="147.1" cy="170.9" rx="5.0" ry="2.6" transform="rotate(24 147.1 170.9)" fill="url(#sg2)" stroke="#ae877b" stroke-width="0.5"/>
<ellipse cx="102.1" cy="109.9" rx="8.8" ry="5.5" transform="rotate(19 102.1 109.9)" fill="url(#sg5)" stroke="#9f786c" stroke-width="0.5"/>
<ellipse cx="168.8" cy="108.5" rx="5.7" ry="2.9" transform="rotate(130 168.8 108.5)" fill="url(#sg5)" stroke="#bd998d" stroke-width="0.5"/>
<ellipse cx="178.9" cy="186.3" rx="8.7" ry="5.2" transform="rotate(28 178.9 186.3)" fill="url(#sg0)" stroke="#ad8679" stroke-width="0.5"/>
<ellipse cx="122.2" cy="132.8" rx="7.5" ry="4.4" transform="rotate(175 122.2 132.8)" fill="url(#sg0)" stroke="#ccaba0" stroke-width="0.5"/>
<ellipse cx="114.7" cy="187.7" rx="7.4" ry="4.5" transform="rotate(180 114.7 187.7)" fill="url(#sg0)" stroke="#ccaba0" stroke-width="0.5"/>
<ellipse cx="142.9" cy="183.6" rx="9.1" ry="5.0" transform="rotate(105 142.9 183.6)" fill="url(#sg3)" stroke="#ad867a" stroke-width="0.5"/>
<ellipse cx="87.4" cy="141.2" rx="8.0" ry="3.4" transform="rotate(30 87.4 141.2)" fill="url(#sg5)" stroke="#bd998d" stroke-width="0.5"/>
<ellipse cx="156.9" cy="196.0" rx="7.5" ry="5.2" transform="rotate(85 156.9 196.0)" fill="url(#sg0)" stroke="#b08a7d" stroke-width="0.5"/>
<ellipse cx="88.8" cy="138.7" rx="5.7" ry="3.7" transform="rotate(159 88.8 138.7)" fill="url(#sg0)" stroke="#ac8579" stroke-width="0.5"/>
<ellipse cx="129.9" cy="156.1" rx="4.2" ry="2.7" transform="rotate(54 129.9 156.1)" fill="url(#sg4)" stroke="#b79185" stroke-width="0.5"/>
<ellipse cx="79.3" cy="124.5" rx="7.5" ry="4.1" transform="rotate(56 79.3 124.5)" fill="url(#sg2)" stroke="#c19d92" stroke-width="0.5"/>
<ellipse cx="98.7" cy="143.3" rx="3.8" ry="1.8" transform="rotate(81 98.7 143.3)" fill="url(#sg4)" stroke="#a0786c" stroke-width="0.5"/>
<ellipse cx="86.9" cy="195.1" rx="8.4" ry="4.6" transform="rotate(26 86.9 195.1)" fill="url(#sg4)" stroke="#b58f82" stroke-width="0.5"/>
<ellipse cx="115.9" cy="164.5" rx="8.7" ry="6.0" transform="rotate(74 115.9 164.5)" fill="url(#sg0)" stroke="#a67f72" stroke-width="0.5"/>
<ellipse cx="158.1" cy="110.7" rx="7.9" ry="4.1" transform="rotate(53 158.1 110.7)" fill="url(#sg4)" stroke="#9c7568" stroke-width="0.5"/>
<ellipse cx="83.9" cy="131.2" rx="9.3" ry="5.5" transform="rotate(153 83.9 131.2)" fill="url(#sg0)" stroke="#ae877b" stroke-width="0.5"/>
<ellipse cx="104.3" cy="122.0" rx="6.7" ry="4.0" transform="rotate(75 104.3 122.0)" fill="url(#sg3)" stroke="#a57d71" stroke-width="0.5"/>
<ellipse cx="179.3" cy="158.9" rx="4.3" ry="3.0" transform="rotate(167 179.3 158.9)" fill="url(#sg0)" stroke="#ae887b" stroke-width="0.5"/>
<ellipse cx="104.3" cy="178.1" rx="5.0" ry="2.6" transform="rotate(77 104.3 178.1)" fill="url(#sg3)" stroke="#ae877b" stroke-width="0.5"/>
<ellipse cx="142.1" cy="134.7" rx="4.2" ry="2.1" transform="rotate(96 142.1 134.7)" fill="url(#sg1)" stroke="#b58f83" stroke-width="0.5"/>
<ellipse cx="131.1" cy="141.8" rx="4.8" ry="2.1" transform="rotate(67 131.1 141.8)" fill="url(#sg2)" stroke="#ac8679" stroke-width="0.5"/>
<ellipse cx="174.7" cy="154.6" rx="6.7" ry="4.1" transform="rotate(67 174.7 154.6)" fill="url(#sg4)" stroke="#cba99e" stroke-width="0.5"/>
<ellipse cx="72.8" cy="162.5" rx="9.3" ry="4.7" transform="rotate(108 72.8 162.5)" fill="url(#sg2)" stroke="#c5a196" stroke-width="0.5"/>
<ellipse cx="94.7" cy="180.6" rx="3.8" ry="1.7" transform="rotate(21 94.7 180.6)" fill="url(#sg2)" stroke="#9d7669" stroke-width="0.5"/>
<ellipse cx="82.0" cy="126.0" rx="5.1" ry="3.3" transform="rotate(77 82.0 126.0)" fill="url(#sg2)" stroke="#af887c" stroke-width="0.5"/>
<ellipse cx="102.9" cy="171.7" rx="4.0" ry="2.8" transform="rotate(150 102.9 171.7)" fill="url(#sg2)" stroke="#9c7568" stroke-width="0.5"/>
<ellipse cx="88.1" cy="115.7" rx="5.2" ry="2.5" transform="rotate(180 88.1 115.7)" fill="url(#sg3)" stroke="#9d7669" stroke-width="0.5"/>
<ellipse cx="139.5" cy="158.1" rx="9.1" ry="5.4" transform="rotate(4 139.5 158.1)" fill="url(#sg5)" stroke="#c09c90" stroke-width="0.5"/>
<ellipse cx="134.6" cy="99.6" rx="7.9" ry="4.2" transform="rotate(122 134.6 99.6)" fill="url(#sg0)" stroke="#a37c6f" stroke-width="0.5"/>
<ellipse cx="81.0" cy="172.3" rx="4.3" ry="2.7" transform="rotate(122 81.0 172.3)" fill="url(#sg0)" stroke="#b18a7e" stroke-width="0.5"/>
<ellipse cx="168.9" cy="176.9" rx="8.5" ry="5.8" transform="rotate(64 168.9 176.9)" fill="url(#sg4)" stroke="#be9a8e" stroke-width="0.5"/>
<ellipse cx="147.9" cy="141.5" rx="7.6" ry="4.6" transform="rotate(20 147.9 141.5)" fill="url(#sg1)" stroke="#9f786b" stroke-width="0.5"/>
<ellipse cx="107.0" cy="114.0" rx="9.2" ry="4.1" transform="rotate(49 107.0 114.0)" fill="url(#sg3)" stroke="#9c7568" stroke-width="0.5"/>
<ellipse cx="118.6" cy="139.4" rx="7.5" ry="5.1" transform="rotate(89 118.6 139.4)" fill="url(#sg5)" stroke="#c29f93" stroke-width="0.5"/>
<ellipse cx="127.2" cy="150.5" rx="6.8" ry="4.5" transform="rotate(139 127.2 150.5)" fill="url(#sg2)" stroke="#a57d71" stroke-width="0.5"/>
<ellipse cx="109.4" cy="116.5" rx="5.6" ry="3.2" transform="rotate(94 109.4 116.5)" fill="url(#sg3)" stroke="#b18b7e" stroke-width="0.5"/>
<ellipse cx="135.6" cy="148.5" rx="8.1" ry="3.6" transform="rotate(127 135.6 148.5)" fill="url(#sg3)" stroke="#ab8477" stroke-width="0.5"/>
<ellipse cx="147.3" cy="124.0" rx="5.1" ry="3.1" transform="rotate(103 147.3 124.0)" fill="url(#sg2)" stroke="#c9a69b" stroke-width="0.5"/>
<ellipse cx="158.7" cy="126.3" rx="5.0" ry="2.3" transform="rotate(163 158.7 126.3)" fill="url(#sg0)" stroke="#b69184" stroke-width="0.5"/>
<ellipse cx="177.4" cy="196.3" rx="6.2" ry="3.4" transform="rotate(42 177.4 196.3)" fill="url(#sg4)" stroke="#a0786c" stroke-width="0.5"/>
<ellipse cx="105.1" cy="189.7" rx="3.7" ry="2.3" transform="rotate(102 105.1 189.7)" fill="url(#sg4)" stroke="#b38d80" stroke-width="0.5"/>
<ellipse cx="124.9" cy="146.8" rx="9.3" ry="4.7" transform="rotate(54 124.9 146.8)" fill="url(#sg1)" stroke="#c29e92" stroke-width="0.5"/>
<ellipse cx="95.6" cy="120.3" rx="6.7" ry="3.9" transform="rotate(22 95.6 120.3)" fill="url(#sg1)" stroke="#b89286" stroke-width="0.5"/>
<ellipse cx="169.1" cy="197.9" rx="7.6" ry="3.9" transform="rotate(171 169.1 197.9)" fill="url(#sg5)" stroke="#c39f94" stroke-width="0.5"/>
<ellipse cx="137.7" cy="187.9" rx="9.4" ry="4.1" transform="rotate(64 137.7 187.9)" fill="url(#sg1)" stroke="#b58f83" stroke-width="0.5"/>
<ellipse cx="99.4" cy="130.4" rx="5.0" ry="2.2" transform="rotate(87 99.4 130.4)" fill="url(#sg2)" stroke="#9c7568" stroke-width="0.5"/>
<ellipse cx="157.7" cy="199.9" rx="4.4" ry="2.3" transform="rotate(148 157.7 199.9)" fill="url(#sg4)" stroke="#c5a297" stroke-width="0.5"/>
<ellipse cx="137.8" cy="157.2" rx="7.9" ry="4.4" transform="rotate(119 137.8 157.2)" fill="url(#sg4)" stroke="#c19d92" stroke-width="0.5"/>
<ellipse cx="100.1" cy="104.8" rx="9.1" ry="4.6" transform="rotate(142 100.1 104.8)" fill="url(#sg1)" stroke="#b38c80" stroke-width="0.5"/>
<ellipse cx="146.1" cy="136.0" rx="4.8" ry="2.8" transform="rotate(49 146.1 136.0)" fill="url(#sg5)" stroke="#ac8579" stroke-width="0.5"/>
<ellipse cx="97.1" cy="200.6" rx="4.2" ry="2.8" transform="rotate(118 97.1 200.6)" fill="url(#sg0)" stroke="#aa8376" stroke-width="0.5"/>
<ellipse cx="72.3" cy="198.9" rx="9.3" ry="4.2" transform="rotate(66 72.3 198.9)" fill="url(#sg2)" stroke="#c6a398" stroke-width="0.5"/>
<ellipse cx="78.6" cy="170.3" rx="3.9" ry="1.6" transform="rotate(103 78.6 170.3)" fill="url(#sg5)" stroke="#cbaa9e" stroke-width="0.5"/>
<ellipse cx="177.3" cy="197.4" rx="6.8" ry="3.6" transform="rotate(122 177.3 197.4)" fill="url(#sg0)" stroke="#b58f83" stroke-width="0.5"/>
<ellipse cx="110.3" cy="152.4" rx="4.7" ry="2.9" transform="rotate(75 110.3 152.4)" fill="url(#sg3)" stroke="#a47d70" stroke-width="0.5"/>
<ellipse cx="146.9" cy="102.2" rx="9.1" ry="6.1" transform="rotate(16 146.9 102.2)" fill="url(#sg2)" stroke="#a78074" stroke-width="0.5"/>
<ellipse cx="95.7" cy="128.2" rx="4.4" ry="2.5" transform="rotate(157 95.7 128.2)" fill="url(#sg1)" stroke="#c5a297" stroke-width="0.5"/>
<ellipse cx="173.0" cy="101.2" rx="6.4" ry="3.7" transform="rotate(123 173.0 101.2)" fill="url(#sg4)" stroke="#c7a599" stroke-width="0.5"/>
<ellipse cx="106.2" cy="117.1" rx="8.1" ry="3.6" transform="rotate(164 106.2 117.1)" fill="url(#sg0)" stroke="#a0796c" stroke-width="0.5"/>
<ellipse cx="165.9" cy="201.4" rx="3.6" ry="1.5" transform="rotate(149 165.9 201.4)" fill="url(#sg5)" stroke="#b99387" stroke-width="0.5"/>
<ellipse cx="163.4" cy="181.0" rx="7.5" ry="3.2" transform="rotate(67 163.4 181.0)" fill="url(#sg1)" stroke="#cbaa9f" stroke-width="0.5"/>
<ellipse cx="162.0" cy="142.6" rx="5.5" ry="2.8" transform="rotate(3 162.0 142.6)" fill="url(#sg1)" stroke="#a88074" stroke-width="0.5"/>
<ellipse cx="135.2" cy="155.3" rx="5.5" ry="3.3" transform="rotate(82 135.2 155.3)" fill="url(#sg1)" stroke="#c9a79c" stroke-width="0.5"/>
<ellipse cx="116.7" cy="120.5" rx="4.8" ry="2.6" transform="rotate(40 116.7 120.5)" fill="url(#sg2)" stroke="#a47c70" stroke-width="0.5"/>
<ellipse cx="145.2" cy="164.3" rx="7.1" ry="4.0" transform="rotate(103 145.2 164.3)" fill="url(#sg0)" stroke="#a47c70" stroke-width="0.5"/>
<ellipse cx="97.1" cy="131.3" rx="5.5" ry="3.4" transform="rotate(121 97.1 131.3)" fill="url(#sg1)" stroke="#b69083" stroke-width="0.5"/>
<ellipse cx="80.5" cy="180.7" rx="5.0" ry="2.3" transform="rotate(75 80.5 180.7)" fill="url(#sg1)" stroke="#ad867a" stroke-width="0.5"/>
<ellipse cx="110.5" cy="196.5" rx="9.4" ry="4.9" transform="rotate(24 110.5 196.5)" fill="url(#sg5)" stroke="#c29e92" stroke-width="0.5"/>
<ellipse cx="108.5" cy="183.6" rx="5.8" ry="2.8" transform="rotate(107 108.5 183.6)" fill="url(#sg5)" stroke="#9e776a" stroke-width="0.5"/>
<ellipse cx="177.2" cy="196.6" rx="3.8" ry="1.6" transform="rotate(172 177.2 196.6)" fill="url(#sg3)" stroke="#c8a69a" stroke-width="0.5"/>
<ellipse cx="87.5" cy="121.0" rx="8.8" ry="6.0" transform="rotate(168 87.5 121.0)" fill="url(#sg2)" stroke="#a17a6e" stroke-width="0.5"/>
<ellipse cx="86.7" cy="185.0" rx="5.4" ry="2.2" transform="rotate(43 86.7 185.0)" fill="url(#sg5)" stroke="#bc988c" stroke-width="0.5"/>
<ellipse cx="167.3" cy="176.7" rx="9.2" ry="4.9" transform="rotate(67 167.3 176.7)" fill="url(#sg0)" stroke="#c9a69b" stroke-width="0.5"/>
<ellipse cx="87.8" cy="192.2" rx="9.4" ry="5.8" transform="rotate(122 87.8 192.2)" fill="url(#sg0)" stroke="#aa8376" stroke-width="0.5"/>
<ellipse cx="91.7" cy="112.1" rx="6.7" ry="3.7" transform="rotate(102 91.7 112.1)" fill="url(#sg4)" stroke="#a88074" stroke-width="0.5"/>
<ellipse cx="82.0" cy="168.9" rx="3.6" ry="2.4" transform="rotate(176 82.0 168.9)" fill="url(#sg5)" stroke="#b48e81" stroke-width="0.5"/>
<ellipse cx="89.3" cy="134.4" rx="6.9" ry="3.4" transform="rotate(143 89.3 134.4)" fill="url(#sg4)" stroke="#b18b7f" stroke-width="0.5"/>
<ellipse cx="137.1" cy="189.5" rx="6.3" ry="2.9" transform="rotate(170 137.1 189.5)" fill="url(#sg5)" stroke="#9c7468" stroke-width="0.5"/>
<ellipse cx="154.4" cy="141.9" rx="3.8" ry="1.7" transform="rotate(31 154.4 141.9)" fill="url(#sg5)" stroke="#c4a095" stroke-width="0.5"/>
<ellipse cx="175.8" cy="101.6" rx="6.0" ry="4.2" transform="rotate(110 175.8 101.6)" fill="url(#sg0)" stroke="#b28b7f" stroke-width="0.5"/>
<ellipse cx="91.7" cy="100.6" rx="5.3" ry="2.2" transform="rotate(47 91.7 100.6)" fill="url(#sg4)" stroke="#b79185" stroke-width="0.5"/>
<ellipse cx="146.3" cy="125.8" rx="8.0" ry="3.6" transform="rotate(26 146.3 125.8)" fill="url(#sg4)" stroke="#b89286" stroke-width="0.5"/>
<ellipse cx="117.0" cy="156.8" rx="6.3" ry="3.1" transform="rotate(164 117.0 156.8)" fill="url(#sg1)" stroke="#bc988b" stroke-width="0.5"/>
<ellipse cx="139.2" cy="194.3" rx="7.4" ry="4.0" transform="rotate(101 139.2 194.3)" fill="url(#sg2)" stroke="#c19d91" stroke-width="0.5"/>
<ellipse cx="172.9" cy="132.5" rx="6.8" ry="3.6" transform="rotate(126 172.9 132.5)" fill="url(#sg2)" stroke="#a98275" stroke-width="0.5"/>
<ellipse cx="82.5" cy="172.5" rx="5.6" ry="3.2" transform="rotate(90 82.5 172.5)" fill="url(#sg4)" stroke="#bb968a" stroke-width="0.5"/>
<ellipse cx="146.0" cy="169.9" rx="5.9" ry="3.2" transform="rotate(152 146.0 169.9)" fill="url(#sg4)" stroke="#b28b7f" stroke-width="0.5"/>
<ellipse cx="81.7" cy="152.2" rx="6.4" ry="3.8" transform="rotate(175 81.7 152.2)" fill="url(#sg2)" stroke="#b59083" stroke-width="0.5"/>
<ellipse cx="77.4" cy="129.0" rx="3.8" ry="2.2" transform="rotate(72 77.4 129.0)" fill="url(#sg0)" stroke="#a78074" stroke-width="0.5"/>
<ellipse cx="169.5" cy="152.9" rx="6.1" ry="3.4" transform="rotate(170 169.5 152.9)" fill="url(#sg3)" stroke="#c5a297" stroke-width="0.5"/>
<ellipse cx="88.4" cy="132.8" rx="7.5" ry="4.1" transform="rotate(167 88.4 132.8)" fill="url(#sg5)" stroke="#a57e71" stroke-width="0.5"/>
<ellipse cx="162.1" cy="185.0" rx="9.4" ry="6.3" transform="rotate(123 162.1 185.0)" fill="url(#sg5)" stroke="#be9a8e" stroke-width="0.5"/>
<ellipse cx="159.4" cy="184.7" rx="4.6" ry="2.9" transform="rotate(55 159.4 184.7)" fill="url(#sg1)" stroke="#9d7569" stroke-width="0.5"/>
<ellipse cx="159.3" cy="201.3" rx="7.4" ry="4.0" transform="rotate(116 159.3 201.3)" fill="url(#sg5)" stroke="#c8a69a" stroke-width="0.5"/>
<ellipse cx="172.7" cy="167.9" rx="3.9" ry="2.3" transform="rotate(20 172.7 167.9)" fill="url(#sg2)" stroke="#c6a398" stroke-width="0.5"/>
<ellipse cx="105.5" cy="118.9" rx="7.7" ry="4.8" transform="rotate(177 105.5 118.9)" fill="url(#sg4)" stroke="#bb968a" stroke-width="0.5"/>
<ellipse cx="152.9" cy="170.6" rx="6.1" ry="3.2" transform="rotate(71 152.9 170.6)" fill="url(#sg0)" stroke="#b79185" stroke-width="0.5"/>
<ellipse cx="173.9" cy="167.4" rx="6.5" ry="3.3" transform="rotate(64 173.9 167.4)" fill="url(#sg0)" stroke="#c7a498" stroke-width="0.5"/>
<ellipse cx="126.0" cy="203.8" rx="4.9" ry="2.9" transform="rotate(21 126.0 203.8)" fill="url(#sg1)" stroke="#b48e82" stroke-width="0.5"/>
<ellipse cx="106.1" cy="128.2" rx="4.6" ry="2.7" transform="rotate(124 106.1 128.2)" fill="url(#sg0)" stroke="#ab8478" stroke-width="0.5"/>
<ellipse cx="172.1" cy="196.5" rx="5.2" ry="3.6" transform="rotate(111 172.1 196.5)" fill="url(#sg3)" stroke="#c19d91" stroke-width="0.5"/>
<ellipse cx="108.0" cy="128.9" rx="6.6" ry="3.6" transform="rotate(6 108.0 128.9)" fill="url(#sg5)" stroke="#b58f83" stroke-width="0.5"/>
<ellipse cx="123.1" cy="178.7" rx="5.0" ry="2.3" transform="rotate(105 123.1 178.7)" fill="url(#sg1)" stroke="#b08a7d" stroke-width="0.5"/>
<ellipse cx="115.0" cy="135.4" rx="9.3" ry="4.5" transform="rotate(155 115.0 135.4)" fill="url(#sg5)" stroke="#b58f83" stroke-width="0.5"/>
<ellipse cx="95.3" cy="197.5" rx="8.2" ry="5.6" transform="rotate(14 95.3 197.5)" fill="url(#sg3)" stroke="#b08a7d" stroke-width="0.5"/>
<ellipse cx="146.0" cy="180.6" rx="6.8" ry="4.0" transform="rotate(169 146.0 180.6)" fill="url(#sg2)" stroke="#b89286" stroke-width="0.5"/>
<ellipse cx="117.3" cy="100.3" rx="4.0" ry="1.8" transform="rotate(178 117.3 100.3)" fill="url(#sg4)" stroke="#a27b6e" stroke-width="0.5"/>
<ellipse cx="131.5" cy="128.2" rx="7.8" ry="4.8" transform="rotate(57 131.5 128.2)" fill="url(#sg5)" stroke="#9d7569" stroke-width="0.5"/>
<ellipse cx="78.3" cy="105.5" rx="9.4" ry="6.4" transform="rotate(35 78.3 105.5)" fill="url(#sg2)" stroke="#c7a499" stroke-width="0.5"/>
<ellipse cx="78.1" cy="106.6" rx="5.1" ry="3.1" transform="rotate(79 78.1 106.6)" fill="url(#sg1)" stroke="#ccaba0" stroke-width="0.5"/>
<ellipse cx="125.8" cy="183.0" rx="5.0" ry="3.2" transform="rotate(43 125.8 183.0)" fill="url(#sg4)" stroke="#af887c" stroke-width="0.5"/>
<ellipse cx="81.4" cy="159.3" rx="5.0" ry="2.8" transform="rotate(72 81.4 159.3)" fill="url(#sg3)" stroke="#9e776a" stroke-width="0.5"/>
<ellipse cx="114.2" cy="149.1" rx="4.1" ry="2.8" transform="rotate(153 114.2 149.1)" fill="url(#sg3)" stroke="#ccaa9f" stroke-width="0.5"/>
<ellipse cx="166.4" cy="198.1" rx="7.3" ry="3.7" transform="rotate(4 166.4 198.1)" fill="url(#sg5)" stroke="#b48e82" stroke-width="0.5"/>
<ellipse cx="116.3" cy="141.7" rx="8.8" ry="4.2" transform="rotate(142 116.3 141.7)" fill="url(#sg5)" stroke="#a88174" stroke-width="0.5"/>
<ellipse cx="94.4" cy="169.9" rx="4.7" ry="2.5" transform="rotate(38 94.4 169.9)" fill="url(#sg0)" stroke="#af887c" stroke-width="0.5"/>
<ellipse cx="104.8" cy="181.7" rx="6.2" ry="3.4" transform="rotate(158 104.8 181.7)" fill="url(#sg3)" stroke="#bb968a" stroke-width="0.5"/>
<ellipse cx="145.2" cy="153.0" rx="8.3" ry="5.6" transform="rotate(159 145.2 153.0)" fill="url(#sg0)" stroke="#c09b8f" stroke-width="0.5"/>
<ellipse cx="104.0" cy="176.5" rx="9.2" ry="5.5" transform="rotate(120 104.0 176.5)" fill="url(#sg3)" stroke="#a57e71" stroke-width="0.5"/>
<ellipse cx="104.2" cy="163.3" rx="4.0" ry="2.3" transform="rotate(131 104.2 163.3)" fill="url(#sg4)" stroke="#be9a8e" stroke-width="0.5"/>
<ellipse cx="73.8" cy="143.5" rx="8.1" ry="3.9" transform="rotate(110 73.8 143.5)" fill="url(#sg1)" stroke="#c6a397" stroke-width="0.5"/>
<ellipse cx="104.4" cy="201.3" rx="8.0" ry="4.2" transform="rotate(90 104.4 201.3)" fill="url(#sg0)" stroke="#c4a094" stroke-width="0.5"/>
<ellipse cx="162.4" cy="140.9" rx="7.0" ry="4.3" transform="rotate(137 162.4 140.9)" fill="url(#sg5)" stroke="#ad8679" stroke-width="0.5"/>
<ellipse cx="123.6" cy="126.4" rx="7.6" ry="4.0" transform="rotate(28 123.6 126.4)" fill="url(#sg0)" stroke="#a17a6d" stroke-width="0.5"/>
<ellipse cx="156.3" cy="133.8" rx="7.9" ry="5.4" transform="rotate(49 156.3 133.8)" fill="url(#sg4)" stroke="#ac8578" stroke-width="0.5"/>
<ellipse cx="174.9" cy="134.0" rx="9.0" ry="5.8" transform="rotate(89 174.9 134.0)" fill="url(#sg3)" stroke="#a98275" stroke-width="0.5"/>
<ellipse cx="159.1" cy="143.9" rx="4.4" ry="2.5" transform="rotate(83 159.1 143.9)" fill="url(#sg4)" stroke="#b69184" stroke-width="0.5"/>
<ellipse cx="119.5" cy="101.4" rx="5.2" ry="2.8" transform="rotate(9 119.5 101.4)" fill="url(#sg0)" stroke="#aa8376" stroke-width="0.5"/>
<ellipse cx="146.7" cy="172.9" rx="8.5" ry="4.4" transform="rotate(49 146.7 172.9)" fill="url(#sg2)" stroke="#b79286" stroke-width="0.5"/>
<ellipse cx="127.5" cy="156.7" rx="5.9" ry="3.1" transform="rotate(142 127.5 156.7)" fill="url(#sg5)" stroke="#c6a398" stroke-width="0.5"/>
<ellipse cx="172.8" cy="125.7" rx="4.6" ry="2.0" transform="rotate(15 172.8 125.7)" fill="url(#sg0)" stroke="#bf9b8f" stroke-width="0.5"/>
<ellipse cx="100.6" cy="151.3" rx="7.7" ry="3.1" transform="rotate(147 100.6 151.3)" fill="url(#sg2)" stroke="#a57e71" stroke-width="0.5"/>
<ellipse cx="148.0" cy="173.8" rx="5.5" ry="3.7" transform="rotate(39 148.0 173.8)" fill="url(#sg3)" stroke="#be998d" stroke-width="0.5"/>
<ellipse cx="75.0" cy="197.2" rx="8.2" ry="4.0" transform="rotate(91 75.0 197.2)" fill="url(#sg2)" stroke="#a67e72" stroke-width="0.5"/>
<ellipse cx="96.1" cy="165.3" rx="4.4" ry="3.0" transform="rotate(61 96.1 165.3)" fill="url(#sg3)" stroke="#c7a499" stroke-width="0.5"/>
<ellipse cx="91.0" cy="118.5" rx="7.1" ry="4.4" transform="rotate(85 91.0 118.5)" fill="url(#sg4)" stroke="#be998d" stroke-width="0.5"/>
<ellipse cx="95.3" cy="193.4" rx="8.7" ry="4.1" transform="rotate(66 95.3 193.4)" fill="url(#sg1)" stroke="#b38d81" stroke-width="0.5"/>
<ellipse cx="144.2" cy="190.0" rx="8.0" ry="5.0" transform="rotate(122 144.2 190.0)" fill="url(#sg4)" stroke="#9c7468" stroke-width="0.5"/>
<ellipse cx="107.0" cy="162.5" rx="8.1" ry="4.4" transform="rotate(96 107.0 162.5)" fill="url(#sg3)" stroke="#9e766a" stroke-width="0.5"/>
<ellipse cx="83.0" cy="101.2" rx="7.7" ry="3.5" transform="rotate(49 83.0 101.2)" fill="url(#sg5)" stroke="#a27b6e" stroke-width="0.5"/>
<ellipse cx="145.3" cy="104.7" rx="8.2" ry="3.8" transform="rotate(4 145.3 104.7)" fill="url(#sg1)" stroke="#ac8679" stroke-width="0.5"/>
<ellipse cx="98.9" cy="130.3" rx="5.1" ry="2.1" transform="rotate(56 98.9 130.3)" fill="url(#sg4)" stroke="#a37c6f" stroke-width="0.5"/>
<ellipse cx="90.7" cy="116.4" rx="4.1" ry="2.5" transform="rotate(34 90.7 116.4)" fill="url(#sg4)" stroke="#c7a499" stroke-width="0.5"/>
<ellipse cx="153.4" cy="165.6" rx="7.5" ry="4.5" transform="rotate(90 153.4 165.6)" fill="url(#sg3)" stroke="#c3a094" stroke-width="0.5"/>
<ellipse cx="111.1" cy="127.4" rx="6.2" ry="3.5" transform="rotate(180 111.1 127.4)" fill="url(#sg1)" stroke="#a98275" stroke-width="0.5"/>
<ellipse cx="104.0" cy="140.9" rx="7.4" ry="3.0" transform="rotate(82 104.0 140.9)" fill="url(#sg4)" stroke="#a47d70" stroke-width="0.5"/>
<ellipse cx="165.8" cy="188.5" rx="7.6" ry="4.6" transform="rotate(134 165.8 188.5)" fill="url(#sg3)" stroke="#9f786b" stroke-width="0.5"/>
<ellipse cx="126.1" cy="123.2" rx="7.0" ry="4.2" transform="rotate(157 126.1 123.2)" fill="url(#sg1)" stroke="#9e776a" stroke-width="0.5"/>
<ellipse cx="98.7" cy="202.9" rx="6.8" ry="3.7" transform="rotate(56 98.7 202.9)" fill="url(#sg2)" stroke="#b48e82" stroke-width="0.5"/>
<ellipse cx="179.0" cy="107.1" rx="9.5" ry="3.8" transform="rotate(27 179.0 107.1)" fill="url(#sg3)" stroke="#be9a8e" stroke-width="0.5"/>
<ellipse cx="153.1" cy="146.9" rx="9.4" ry="6.3" transform="rotate(106 153.1 146.9)" fill="url(#sg4)" stroke="#b89386" stroke-width="0.5"/>
<ellipse cx="134.9" cy="117.5" rx="6.3" ry="4.2" transform="rotate(121 134.9 117.5)" fill="url(#sg1)" stroke="#c9a79c" stroke-width="0.5"/>
<ellipse cx="142.4" cy="185.9" rx="9.4" ry="6.4" transform="rotate(111 142.4 185.9)" fill="url(#sg0)" stroke="#a67e72" stroke-width="0.5"/>
<ellipse cx="142.9" cy="121.9" rx="3.9" ry="2.5" transform="rotate(60 142.9 121.9)" fill="url(#sg4)" stroke="#b58f82" stroke-width="0.5"/>
<ellipse cx="177.5" cy="118.7" rx="4.6" ry="3.0" transform="rotate(40 177.5 118.7)" fill="url(#sg1)" stroke="#9d7669" stroke-width="0.5"/>
<ellipse cx="75.7" cy="184.4" rx="4.3" ry="2.0" transform="rotate(5 75.7 184.4)" fill="url(#sg1)" stroke="#c7a499" stroke-width="0.5"/>
<ellipse cx="141.7" cy="204.3" rx="8.3" ry="5.6" transform="rotate(134 141.7 204.3)" fill="url(#sg2)" stroke="#ba9589" stroke-width="0.5"/>
<ellipse cx="138.4" cy="199.1" rx="3.8" ry="2.1" transform="rotate(69 138.4 199.1)" fill="url(#sg5)" stroke="#a78073" stroke-width="0.5"/>
<ellipse cx="149.2" cy="118.8" rx="6.5" ry="4.5" transform="rotate(43 149.2 118.8)" fill="url(#sg2)" stroke="#a88174" stroke-width="0.5"/>
<ellipse cx="93.6" cy="107.9" rx="5.0" ry="3.0" transform="rotate(69 93.6 107.9)" fill="url(#sg5)" stroke="#be998d" stroke-width="0.5"/>
<ellipse cx="177.8" cy="170.7" rx="7.3" ry="3.7" transform="rotate(129 177.8 170.7)" fill="url(#sg3)" stroke="#9b7467" stroke-width="0.5"/>
<ellipse cx="116.3" cy="161.9" rx="4.2" ry="2.0" transform="rotate(21 116.3 161.9)" fill="url(#sg2)" stroke="#ccaa9f" stroke-width="0.5"/>
<ellipse cx="112.1" cy="134.3" rx="4.4" ry="2.5" transform="rotate(165 112.1 134.3)" fill="url(#sg1)" stroke="#a57d71" stroke-width="0.5"/>
<ellipse cx="73.2" cy="169.4" rx="7.4" ry="4.3" transform="rotate(81 73.2 169.4)" fill="url(#sg3)" stroke="#bf9a8e" stroke-width="0.5"/>
<ellipse cx="80.4" cy="191.5" rx="3.7" ry="1.7" transform="rotate(84 80.4 191.5)" fill="url(#sg3)" stroke="#b99488" stroke-width="0.5"/>
<ellipse cx="152.5" cy="180.4" rx="7.8" ry="3.3" transform="rotate(149 152.5 180.4)" fill="url(#sg1)" stroke="#a88175" stroke-width="0.5"/>
<ellipse cx="138.4" cy="194.9" rx="4.9" ry="2.9" transform="rotate(26 138.4 194.9)" fill="url(#sg5)" stroke="#9d7669" stroke-width="0.5"/>
<ellipse cx="163.4" cy="163.4" rx="9.0" ry="3.7" transform="rotate(20 163.4 163.4)" fill="url(#sg2)" stroke="#a37c70" stroke-width="0.5"/>
<ellipse cx="120.6" cy="145.8" rx="3.9" ry="2.2" transform="rotate(13 120.6 145.8)" fill="url(#sg4)" stroke="#c29e93" stroke-width="0.5"/>
<ellipse cx="116.3" cy="139.5" rx="8.0" ry="3.4" transform="rotate(1 116.3 139.5)" fill="url(#sg2)" stroke="#9c7569" stroke-width="0.5"/>
<ellipse cx="138.4" cy="119.7" rx="5.5" ry="2.2" transform="rotate(160 138.4 119.7)" fill="url(#sg4)" stroke="#c5a296" stroke-width="0.5"/>
<ellipse cx="103.3" cy="129.6" rx="7.5" ry="3.4" transform="rotate(144 103.3 129.6)" fill="url(#sg2)" stroke="#c9a69b" stroke-width="0.5"/>
<ellipse cx="83.6" cy="168.9" rx="5.1" ry="2.5" transform="rotate(44 83.6 168.9)" fill="url(#sg0)" stroke="#bd998d" stroke-width="0.5"/>
<ellipse cx="171.9" cy="118.9" rx="5.9" ry="3.8" transform="rotate(138 171.9 118.9)" fill="url(#sg0)" stroke="#b69184" stroke-width="0.5"/>
<ellipse cx="85.0" cy="143.4" rx="7.6" ry="4.4" transform="rotate(122 85.0 143.4)" fill="url(#sg4)" stroke="#c7a599" stroke-width="0.5"/>
<ellipse cx="134.3" cy="194.2" rx="9.5" ry="6.2" transform="rotate(118 134.3 194.2)" fill="url(#sg4)" stroke="#a27a6e" stroke-width="0.5"/>
<ellipse cx="115.6" cy="159.4" rx="4.3" ry="2.7" transform="rotate(11 115.6 159.4)" fill="url(#sg5)" stroke="#b79286" stroke-width="0.5"/>
<ellipse cx="94.5" cy="201.2" rx="5.8" ry="2.8" transform="rotate(120 94.5 201.2)" fill="url(#sg0)" stroke="#a88174" stroke-width="0.5"/>
<ellipse cx="111.5" cy="173.2" rx="4.6" ry="3.0" transform="rotate(36 111.5 173.2)" fill="url(#sg4)" stroke="#b99387" stroke-width="0.5"/>
<ellipse cx="151.2" cy="111.3" rx="7.6" ry="4.5" transform="rotate(115 151.2 111.3)" fill="url(#sg3)" stroke="#ccaba0" stroke-width="0.5"/>
<ellipse cx="140.9" cy="106.0" rx="7.8" ry="3.7" transform="rotate(87 140.9 106.0)" fill="url(#sg5)" stroke="#b28b7f" stroke-width="0.5"/>
<path d="M123.9,167.1 Q124.3,170.4 122.7,173.4" fill="none" stroke="#dec2b9" stroke-width="1.0" stroke-linecap="round"/>
<path d="M132.9,159.3 Q128.4,163.9 127.1,170.1" fill="none" stroke="#c29f93" stroke-width="0.9" stroke-linecap="round"/>
<path d="M146.1,138.7 Q146.5,144.6 144.5,150.2" fill="none" stroke="#dbbfb6" stroke-width="0.8" stroke-linecap="round"/>
<path d="M135.6,136.4 Q140.9,139.7 146.8,141.7" fill="none" stroke="#c8a69b" stroke-width="0.7" stroke-linecap="round"/>
<path d="M115.3,186.0 Q121.3,187.7 127.5,188.3" fill="none" stroke="#d2b3a8" stroke-width="0.7" stroke-linecap="round"/>
<path d="M133.7,186.4 Q136.4,188.1 136.2,191.3" fill="none" stroke="#ddc1b8" stroke-width="1.0" stroke-linecap="round"/>
<path d="M167.6,134.9 Q169.8,139.3 171.5,143.9" fill="none" stroke="#dabdb3" stroke-width="0.7" stroke-linecap="round"/>
<path d="M79.0,153.2 Q80.4,156.4 80.2,160.0" fill="none" stroke="#d0b0a5" stroke-width="0.7" stroke-linecap="round"/>
<path d="M123.9,187.6 Q120.3,190.1 115.9,189.9" fill="none" stroke="#c9a69b" stroke-width="0.9" stroke-linecap="round"/>
<path d="M113.8,138.3 Q111.3,137.7 109.0,138.9" fill="none" stroke="#c09c90" stroke-width="0.9" stroke-linecap="round"/>
<path d="M121.2,124.5 Q116.2,128.8 114.2,135.1" fill="none" stroke="#dcc0b6" stroke-width="1.0" stroke-linecap="round"/>
<path d="M82.9,108.0 Q80.6,112.9 81.9,118.3" fill="none" stroke="#e8d2ca" stroke-width="0.8" stroke-linecap="round"/>
<path d="M130.4,109.7 Q132.9,111.6 135.9,112.5" fill="none" stroke="#cba99e" stroke-width="0.8" stroke-linecap="round"/>
<path d="M167.1,175.0 Q169.6,174.8 170.6,177.1" fill="none" stroke="#c4a195" stroke-width="0.7" stroke-linecap="round"/>
<path d="M161.2,174.4 Q165.5,176.0 169.2,178.7" fill="none" stroke="#c5a296" stroke-width="1.1" stroke-linecap="round"/>
<path d="M102.0,101.0 Q104.9,105.6 104.5,111.0" fill="none" stroke="#d6b8ad" stroke-width="1.1" stroke-linecap="round"/>
<path d="M113.1,138.2 Q107.7,141.4 104.0,146.5" fill="none" stroke="#e6cfc7" stroke-width="0.7" stroke-linecap="round"/>
<path d="M128.4,130.1 Q124.3,131.2 122.5,135.1" fill="none" stroke="#d0afa5" stroke-width="0.7" stroke-linecap="round"/>
<path d="M121.0,117.4 Q119.9,120.1 122.2,121.8" fill="none" stroke="#e9d3cb" stroke-width="1.0" stroke-linecap="round"/>
<path d="M99.4,183.7 Q99.7,188.1 98.2,192.2" fill="none" stroke="#c4a195" stroke-width="0.9" stroke-linecap="round"/>
<path d="M162.7,160.1 Q164.5,162.8 167.3,164.5" fill="none" stroke="#e4ccc4" stroke-width="1.1" stroke-linecap="round"/>
<path d="M94.1,104.6 Q98.0,106.7 100.5,110.3" fill="none" stroke="#d0b0a5" stroke-width="1.0" stroke-linecap="round"/>
<path d="M122.7,119.9 Q124.3,121.8 126.3,123.0" fill="none" stroke="#c8a59a" stroke-width="0.6" stroke-linecap="round"/>
<path d="M132.1,151.2 Q126.0,153.4 121.1,157.7" fill="none" stroke="#e0c6bd" stroke-width="0.8" stroke-linecap="round"/>
<path d="M103.3,198.0 Q99.5,203.0 93.9,205.7" fill="none" stroke="#c8a69a" stroke-width="0.8" stroke-linecap="round"/>
<path d="M127.8,126.3 Q132.7,127.9 136.9,131.0" fill="none" stroke="#dcc0b6" stroke-width="0.6" stroke-linecap="round"/>
<path d="M108.5,156.3 Q113.1,161.0 119.4,162.9" fill="none" stroke="#d8bab0" stroke-width="0.9" stroke-linecap="round"/>
<path d="M148.5,197.9 Q146.7,201.9 145.0,206.0" fill="none" stroke="#e0c6bd" stroke-width="0.8" stroke-linecap="round"/>
<path d="M88.9,107.0 Q83.6,106.8 78.8,108.9" fill="none" stroke="#e7d0c8" stroke-width="1.0" stroke-linecap="round"/>
<path d="M106.4,147.5 Q104.7,150.2 105.1,153.3" fill="none" stroke="#d3b4aa" stroke-width="0.6" stroke-linecap="round"/>
<path d="M118.5,104.2 Q118.6,109.7 116.7,114.8" fill="none" stroke="#d2b2a8" stroke-width="0.8" stroke-linecap="round"/>
<path d="M104.4,151.3 Q108.2,153.2 109.9,157.0" fill="none" stroke="#d9bcb2" stroke-width="1.0" stroke-linecap="round"/>
<path d="M146.5,110.5 Q146.3,114.2 143.7,117.0" fill="none" stroke="#dbbeb4" stroke-width="0.9" stroke-linecap="round"/>
<path d="M90.8,161.7 Q93.3,164.1 94.4,167.3" fill="none" stroke="#caa89d" stroke-width="0.6" stroke-linecap="round"/>
<path d="M119.7,102.5 Q122.4,103.8 122.6,106.8" fill="none" stroke="#d4b6ab" stroke-width="1.0" stroke-linecap="round"/>
<path d="M159.8,172.0 Q156.6,177.3 155.8,183.4" fill="none" stroke="#e0c5bc" stroke-width="0.8" stroke-linecap="round"/>
<path d="M164.9,177.1 Q159.0,176.7 153.2,178.5" fill="none" stroke="#c29e92" stroke-width="0.7" stroke-linecap="round"/>
<path d="M93.2,155.6 Q93.1,160.7 89.9,164.7" fill="none" stroke="#ccaa9f" stroke-width="0.8" stroke-linecap="round"/>
<path d="M120.4,136.2 Q125.6,139.5 130.0,143.7" fill="none" stroke="#dabeb4" stroke-width="0.9" stroke-linecap="round"/>
<path d="M154.5,116.7 Q153.1,119.9 151.3,122.8" fill="none" stroke="#be9a8e" stroke-width="0.6" stroke-linecap="round"/>
<path d="M123.4,152.8 Q122.3,157.4 121.5,162.0" fill="none" stroke="#d3b4a9" stroke-width="1.1" stroke-linecap="round"/>
<path d="M95.9,163.3 Q95.6,168.1 96.6,172.9" fill="none" stroke="#d1b1a6" stroke-width="1.0" stroke-linecap="round"/>
<path d="M166.8,147.8 Q165.2,152.2 162.7,156.1" fill="none" stroke="#d0b0a5" stroke-width="1.1" stroke-linecap="round"/>
<path d="M89.0,99.9 Q83.9,103.1 77.9,103.2" fill="none" stroke="#caa89c" stroke-width="1.0" stroke-linecap="round"/>
<path d="M123.6,136.3 Q129.8,137.9 136.2,137.4" fill="none" stroke="#e1c7be" stroke-width="0.9" stroke-linecap="round"/>
<path d="M176.6,186.0 Q174.1,192.0 169.2,196.4" fill="none" stroke="#d5b6ac" stroke-width="0.9" stroke-linecap="round"/>
<path d="M173.6,152.5 Q171.5,158.2 167.5,162.9" fill="none" stroke="#cdaba0" stroke-width="0.6" stroke-linecap="round"/>
<path d="M91.8,111.7 Q97.1,113.5 102.7,113.8" fill="none" stroke="#d9bcb2" stroke-width="0.8" stroke-linecap="round"/>
<path d="M96.1,133.5 Q94.0,137.1 90.2,138.8" fill="none" stroke="#e2c9c0" stroke-width="1.1" stroke-linecap="round"/>
<path d="M90.8,138.8 Q94.4,141.3 98.7,141.1" fill="none" stroke="#bf9a8e" stroke-width="0.8" stroke-linecap="round"/>
<path d="M89.5,110.0 Q83.6,113.0 77.0,112.6" fill="none" stroke="#caa89d" stroke-width="0.8" stroke-linecap="round"/>
<path d="M126.2,105.8 Q127.7,111.7 132.2,115.8" fill="none" stroke="#c7a499" stroke-width="0.8" stroke-linecap="round"/>
<path d="M165.5,104.9 Q169.4,107.9 170.5,112.7" fill="none" stroke="#d0afa4" stroke-width="1.0" stroke-linecap="round"/>
<path d="M82.5,128.0 Q77.7,131.8 72.5,134.9" fill="none" stroke="#c09c90" stroke-width="1.0" stroke-linecap="round"/>
<path d="M118.4,139.8 Q117.5,143.5 116.1,147.1" fill="none" stroke="#d3b4aa" stroke-width="1.0" stroke-linecap="round"/>
<path d="M109.2,128.1 Q105.9,128.7 102.7,129.6" fill="none" stroke="#cdada2" stroke-width="0.8" stroke-linecap="round"/>
<path d="M73.4,159.3 Q78.6,161.4 84.1,162.5" fill="none" stroke="#bd988c" stroke-width="1.0" stroke-linecap="round"/>
<path d="M92.0,120.1 Q89.4,125.2 88.7,130.8" fill="none" stroke="#be998d" stroke-width="0.6" stroke-linecap="round"/>
<path d="M128.6,114.0 Q128.5,118.1 130.9,121.4" fill="none" stroke="#dbbeb4" stroke-width="0.6" stroke-linecap="round"/>
<path d="M117.9,128.4 Q114.1,128.0 110.4,129.1" fill="none" stroke="#e1c7be" stroke-width="0.7" stroke-linecap="round"/>
<path d="M110.5,196.7 Q105.2,199.6 100.0,202.7" fill="none" stroke="#ead4cc" stroke-width="1.1" stroke-linecap="round"/>
<path d="M161.4,181.8 Q159.1,185.8 159.8,190.5" fill="none" stroke="#d8bbb1" stroke-width="0.7" stroke-linecap="round"/>
<path d="M70.8,156.3 Q73.6,161.9 78.8,165.4" fill="none" stroke="#dfc5bc" stroke-width="0.7" stroke-linecap="round"/>
<path d="M137.9,182.0 Q138.6,186.2 141.9,188.8" fill="none" stroke="#ceada2" stroke-width="0.9" stroke-linecap="round"/>
<path d="M154.3,196.1 Q153.1,200.1 155.2,203.8" fill="none" stroke="#d8bab0" stroke-width="1.0" stroke-linecap="round"/>
<path d="M79.3,144.9 Q81.8,146.8 84.7,148.1" fill="none" stroke="#ceada2" stroke-width="0.8" stroke-linecap="round"/>
<path d="M157.9,109.5 Q159.2,113.9 157.9,118.4" fill="none" stroke="#ceada3" stroke-width="0.9" stroke-linecap="round"/>
<path d="M125.2,114.5 Q128.5,115.7 132.0,114.9" fill="none" stroke="#e4cbc3" stroke-width="0.9" stroke-linecap="round"/>
<path d="M147.3,115.3 Q146.8,121.4 147.9,127.5" fill="none" stroke="#dbbeb4" stroke-width="0.7" stroke-linecap="round"/>
<path d="M148.1,114.2 Q141.9,112.5 135.7,114.5" fill="none" stroke="#e8d1c9" stroke-width="0.9" stroke-linecap="round"/>
<path d="M86.6,112.3 Q84.3,113.0 82.2,114.1" fill="none" stroke="#d1b1a6" stroke-width="0.7" stroke-linecap="round"/>
<path d="M167.1,158.5 Q166.8,161.5 169.4,163.1" fill="none" stroke="#e0c5bc" stroke-width="1.1" stroke-linecap="round"/>
<path d="M131.8,170.9 Q137.1,172.3 141.5,175.4" fill="none" stroke="#e8d2ca" stroke-width="0.7" stroke-linecap="round"/>
<path d="M152.7,111.2 Q151.7,113.1 150.1,114.7" fill="none" stroke="#dbbeb4" stroke-width="0.8" stroke-linecap="round"/>
<path d="M149.1,187.4 Q146.0,193.1 140.5,196.4" fill="none" stroke="#cfaea3" stroke-width="0.9" stroke-linecap="round"/>
<ellipse cx="176" cy="110" rx="7" ry="14" fill="#2a1a16" opacity="0.45"/>
<ellipse cx="108" cy="178" rx="8" ry="6" fill="#2a1a16" opacity="0.3"/>
</g>
<rect x="146.8" y="184.2" width="14.5" height="4.5" fill="#000"/>
</g>
<g clip-path="url(#clipa)">
<path d="M63.89,215.85 L65.27,215.84 L66.66,215.84 L68.04,215.84 L69.43,215.83 L70.81,215.83 L72.20,215.82 L73.58,215.82 L74.97,215.82 L76.35,215.81 L77.74,215.81 L79.12,215.80 L80.51,215.80 L81.89,215.79 L83.28,215.79 L84.66,215.78 L86.05,215.78 L87.43,215.78 L88.82,215.77 L90.20,215.77 L91.59,215.76 L92.97,215.76 L94.36,215.75 L95.74,215.75 L97.13,215.74 L98.51,215.74 L99.90,215.73 L101.28,215.73 L102.67,215.72 L104.05,215.72 L105.44,215.71 L106.83,215.71 L108.21,215.70 L109.60,215.70 L110.98,215.69 L112.37,215.68 L113.75,215.68 L115.14,215.67 L116.52,215.67 L117.91,215.66 L119.30,215.65 L120.68,215.65 L122.07,215.64 L123.45,215.63 L124.84,215.63 L126.22,215.62 L127.61,215.61 L129.00,215.60 L130.38,215.60 L131.77,215.59 L133.15,215.58 L134.54,215.57 L135.93,215.56 L137.31,215.55 L138.70,215.54 L140.09,215.53 L141.47,215.52 L142.86,215.51 L144.25,215.50 L145.64,215.49 L147.02,215.48 L148.41,215.47 L149.80,215.45 L151.19,215.44 L152.57,215.43 L153.96,215.41 L155.35,215.40 L156.74,215.38 L158.13,215.36 L159.52,215.35 L160.90,215.33 L162.29,215.31 L163.68,215.29 L165.07,215.27 L166.46,215.25 L167.85,215.23 L169.25,215.20 L170.64,215.18 L172.03,215.15 L173.42,215.12 L174.81,215.09 L176.21,215.06 L177.60,215.03 L178.99,215.00 L180.39,214.96 L181.78,214.92 L183.18,214.88 L184.57,214.84 L185.97,214.80 L187.37,214.75 L188.77,214.70 L190.17,214.65 L191.57,214.60 L192.97,214.54 L194.37,214.48 L195.77,214.42 L197.18,214.35 L198.58,214.28 L199.99,214.20 L201.39,214.12 L202.80,214.04 L204.21,213.95 L205.62,213.86 L207.04,213.76 L208.45,213.65 L209.87,213.54 L211.29,213.43 L212.71,213.30 L214.13,213.17 L215.56,213.03 L216.98,212.89 L218.41,212.73 L219.85,212.57 L221.28,212.40 L222.72,212.21 L224.16,212.02 L225.61,211.81 L227.06,211.60 L228.51,211.37 L229.96,211.12 L231.43,210.86 L232.89,210.59 L234.36,210.30 L235.34,210.10 L236.33,209.89 L237.32,209.67 L238.31,209.45 L239.30,209.21 L240.29,208.97 L241.29,208.71 L242.29,208.45 L243.30,208.18 L244.30,207.89 L245.32,207.60 L246.33,207.29 L247.35,206.97 L248.37,206.64 L249.39,206.30 L250.42,205.94 L251.46,205.57 L252.49,205.18 L253.54,204.78 L254.58,204.36 L255.63,203.93 L256.69,203.48 L257.75,203.01 L258.82,202.53 L259.89,202.02 L260.97,201.50 L262.06,200.95 L263.15,200.39 L264.25,199.80 L265.35,199.19 L266.46,198.55 L267.58,197.89 L268.71,197.21 L269.85,196.49 L270.99,195.75 L272.14,194.98 L273.30,194.18 L274.47,193.35 L275.65,192.49 L276.84,191.59 L278.04,190.66 L279.26,189.69 L280.48,188.69 L281.71,187.64 L282.96,186.55 L284.22,185.42 L285.49,184.25 L286.78,183.03 L288.08,181.76 L289.40,180.44 L290.73,179.07 L292.07,177.65 L293.44,176.17 L294.13,175.41 L294.82,174.64 L295.52,173.85 L296.22,173.04 L296.92,172.22 L297.63,171.38 L298.35,170.53 L299.07,169.66 L299.80,168.77 L300.53,167.86 L301.26,166.94 L302.01,166.00 L302.75,165.04 L303.51,164.07 L304.26,163.07 L305.03,162.06 L305.80,161.02 L306.58,159.97 L307.36,158.89 L308.15,157.79 L308.94,156.68 L309.74,155.54 L310.55,154.38 L311.36,153.19 L312.19,151.99 L313.01,150.76 L313.85,149.50 L314.70,148.22 L315.55,146.92 L316.40,145.59 L317.26,144.24 L318.12,142.85 L319.03,141.45 L319.92,140.01 L320.78,138.55 L321.68,137.06 L322.59,135.54 L323.59,133.99 L324.54,132.41 L325.43,130.80 L326.40,129.15" fill="none" stroke="#8c6bb1" stroke-width="1.25" stroke-linejoin="round"/>
<path d="M63.50,215.34 L64.72,215.31 L65.93,215.29 L67.15,215.27 L68.36,215.25 L69.58,215.22 L70.79,215.20 L72.01,215.18 L73.22,215.16 L74.44,215.13 L75.65,215.11 L76.87,215.09 L78.08,215.07 L79.30,215.04 L80.51,215.02 L81.73,215.00 L82.94,214.97 L84.16,214.95 L85.37,214.93 L86.58,214.91 L87.80,214.88 L89.01,214.86 L90.23,214.84 L91.44,214.82 L92.66,214.79 L93.87,214.77 L95.09,214.75 L96.30,214.72 L97.52,214.70 L98.73,214.68 L99.95,214.66 L101.16,214.63 L102.38,214.61 L103.59,214.59 L104.81,214.56 L106.02,214.54 L107.24,214.52 L108.45,214.49 L109.67,214.47 L110.88,214.45 L112.10,214.43 L113.31,214.40 L114.53,214.38 L115.74,214.35 L116.96,214.33 L118.17,214.31 L119.39,214.28 L120.60,214.26 L121.82,214.24 L123.03,214.21 L124.25,214.19 L125.46,214.16 L126.68,214.14 L127.89,214.12 L129.11,214.09 L130.33,214.07 L131.54,214.04 L132.76,214.02 L133.97,213.99 L135.19,213.97 L136.40,213.94 L137.62,213.92 L138.83,213.89 L140.05,213.87 L141.26,213.84 L142.48,213.81 L143.69,213.79 L144.91,213.76 L146.13,213.74 L147.34,213.71 L148.56,213.68 L149.77,213.65 L150.99,213.63 L152.20,213.60 L153.42,213.57 L154.64,213.54 L155.85,213.51 L157.07,213.48 L158.28,213.45 L159.50,213.42 L160.72,213.39 L161.93,213.36 L163.15,213.32 L164.37,213.29 L165.58,213.26 L166.80,213.22 L168.02,213.19 L169.24,213.15 L170.45,213.12 L171.67,213.08 L172.89,213.04 L174.11,213.00 L175.32,212.96 L176.54,212.92 L177.76,212.88 L178.98,212.84 L180.20,212.79 L181.42,212.75 L182.63,212.70 L183.85,212.65 L185.07,212.60 L186.29,212.55 L187.51,212.50 L188.73,212.44 L189.96,212.38 L191.18,212.32 L192.40,212.26 L193.62,212.20 L194.84,212.13 L196.07,212.06 L197.29,211.99 L198.51,211.91 L199.74,211.84 L200.96,211.76 L202.19,211.67 L203.42,211.58 L204.64,211.49 L205.87,211.39 L207.10,211.29 L208.33,211.19 L209.56,211.08 L210.79,210.96 L212.02,210.84 L213.26,210.71 L214.49,210.58 L215.72,210.44 L216.96,210.29 L218.20,210.14 L219.44,209.97 L220.68,209.80 L221.92,209.62 L223.17,209.43 L224.41,209.23 L225.66,209.03 L226.91,208.80 L228.16,208.57 L229.41,208.33 L230.67,208.07 L231.93,207.80 L233.19,207.51 L234.45,207.21 L235.72,206.89 L236.99,206.55 L238.26,206.20 L239.54,205.82 L240.82,205.43 L242.10,205.01 L243.39,204.57 L244.68,204.10 L245.98,203.60 L247.28,203.08 L248.59,202.53 L249.90,201.95 L251.22,201.33 L252.54,200.68 L253.88,199.99 L254.77,199.51 L255.66,199.01 L256.56,198.50 L257.46,197.96 L258.36,197.40 L259.27,196.82 L260.18,196.22 L261.10,195.59 L262.02,194.94 L262.95,194.27 L263.88,193.57 L264.81,192.84 L265.75,192.09 L266.69,191.30 L267.64,190.49 L268.60,189.65 L269.56,188.77 L270.52,187.86 L271.50,186.91 L272.48,185.93 L273.46,184.90 L274.45,183.84 L275.45,182.74 L276.46,181.60 L277.47,180.41 L278.50,179.17 L279.53,177.89 L280.57,176.56 L281.62,175.17 L282.68,173.73 L283.74,172.24 L284.82,170.69 L285.91,169.07 L287.01,167.40 L287.56,166.54 L288.12,165.66 L288.68,164.76 L289.24,163.85 L289.81,162.92 L290.38,161.97 L290.95,161.00 L291.53,160.02 L292.10,159.01 L292.69,157.99 L293.27,156.95 L293.86,155.88 L294.45,154.80 L295.05,153.69 L295.65,152.57 L296.26,151.42 L296.86,150.25 L297.47,149.06 L298.09,147.84 L298.71,146.60 L299.33,145.34 L299.96,144.05 L300.60,142.74 L301.23,141.40 L301.87,140.03 L302.52,138.64 L303.17,137.23 L303.83,135.78 L304.49,134.31 L305.15,132.81 L305.82,131.28 L306.50,129.72 L307.18,128.13 L307.87,126.51 L308.57,124.85 L309.29,123.17 L309.94,121.45 L310.72,119.70 L311.46,117.92 L312.19,116.10 L312.76,114.25 L313.54,112.36 L314.37,110.43 L315.14,108.47 L315.67,106.47 L316.53,104.43 L317.41,102.35 L318.20,100.23 L318.90,98.07 L319.55,95.87 L320.42,93.62 L321.06,91.33 L321.98,89.00 L322.86,86.62 L323.91,84.20 L324.61,81.72 L325.35,79.20 L326.08,76.64" fill="none" stroke="#56b435" stroke-width="1.25" stroke-linejoin="round"/>
<path d="M63.55,217.81 L64.99,217.83 L66.42,217.84 L67.85,217.86 L69.29,217.88 L70.72,217.89 L72.15,217.91 L73.59,217.92 L75.02,217.93 L76.45,217.95 L77.89,217.96 L79.32,217.98 L80.76,217.99 L82.19,218.00 L83.62,218.02 L85.06,218.03 L86.49,218.04 L87.92,218.05 L89.36,218.07 L90.79,218.08 L92.23,218.09 L93.66,218.10 L95.10,218.11 L96.53,218.12 L97.96,218.13 L99.40,218.14 L100.83,218.14 L102.27,218.15 L103.70,218.16 L105.14,218.16 L106.57,218.17 L108.01,218.17 L109.44,218.18 L110.88,218.18 L112.31,218.18 L113.75,218.18 L115.19,218.18 L116.62,218.18 L118.06,218.18 L119.50,218.18 L120.93,218.17 L122.37,218.17 L123.81,218.16 L125.24,218.15 L126.68,218.14 L128.12,218.13 L129.56,218.11 L131.00,218.10 L132.43,218.08 L133.87,218.06 L135.31,218.03 L136.75,218.01 L138.19,217.98 L139.64,217.95 L141.08,217.92 L142.52,217.88 L143.96,217.84 L145.40,217.80 L146.85,217.75 L148.29,217.70 L149.74,217.65 L151.18,217.59 L152.63,217.53 L154.08,217.46 L155.52,217.39 L156.97,217.31 L158.42,217.22 L159.87,217.13 L161.33,217.04 L162.78,216.93 L164.23,216.82 L165.69,216.70 L167.15,216.58 L168.60,216.44 L170.06,216.30 L171.52,216.14 L172.99,215.98 L174.45,215.80 L175.92,215.62 L177.39,215.42 L178.86,215.21 L180.33,214.98 L181.81,214.74 L183.29,214.49 L184.27,214.31 L185.26,214.12 L186.25,213.93 L187.24,213.72 L188.23,213.51 L189.23,213.29 L190.22,213.06 L191.22,212.83 L192.22,212.58 L193.22,212.32 L194.22,212.05 L195.22,211.77 L196.23,211.48 L197.24,211.18 L198.24,210.86 L199.26,210.53 L200.27,210.19 L201.29,209.83 L202.30,209.46 L203.33,209.08 L204.35,208.68 L205.38,208.26 L206.40,207.83 L207.44,207.38 L208.47,206.91 L209.51,206.42 L210.55,205.91 L211.59,205.38 L212.64,204.83 L213.69,204.26 L214.75,203.66 L215.81,203.05 L216.87,202.40 L217.94,201.73 L219.01,201.04 L220.09,200.31 L221.17,199.56 L222.26,198.78 L223.35,197.96 L224.45,197.12 L225.55,196.24 L226.66,195.32 L227.77,194.37 L228.89,193.38 L230.02,192.35 L231.15,191.28 L232.30,190.17 L233.44,189.02 L234.60,187.82 L235.76,186.57 L236.94,185.27 L238.12,183.92 L239.31,182.51 L240.50,181.05 L241.71,179.54 L242.93,177.96 L243.54,177.15 L244.16,176.32 L244.78,175.48 L245.40,174.61 L246.02,173.74 L246.65,172.84 L247.28,171.93 L247.91,171.00 L248.54,170.05 L249.18,169.09 L249.82,168.10 L250.47,167.10 L251.12,166.07 L251.77,165.03 L252.42,163.96 L253.08,162.88 L253.74,161.77 L254.41,160.64 L255.07,159.49 L255.75,158.32 L256.42,157.12 L257.10,155.90 L257.79,154.66 L258.48,153.39 L259.17,152.10 L259.86,150.78 L260.56,149.44 L261.29,148.07 L261.98,146.67 L262.65,145.25 L263.37,143.80 L264.06,142.32 L264.95,140.81 L265.60,139.27 L266.40,137.70 L267.20,136.10 L268.03,134.47 L268.43,132.81 L269.29,131.12 L270.31,129.39 L271.03,127.63 L271.57,125.83 L272.54,124.00 L272.98,122.14 L273.73,120.24 L274.41,118.30 L275.50,116.32 L276.16,114.30 L277.26,112.25 L278.58,110.15 L278.49,108.02 L279.80,105.84 L281.04,103.62 L281.56,101.36 L282.33,99.05 L283.55,96.70 L283.30,94.30 L285.63,91.85 L286.12,89.36 L287.24,86.82 L288.20,84.23 L287.77,81.59 L288.60,78.89 L289.73,76.15 L291.33,73.35 L293.23,70.50 L294.13,67.59 L294.01,64.62 L295.45,61.60 L296.69,58.52 L296.80,55.38 L299.21,52.17 L300.16,48.91 L300.72,45.58 L302.14,42.18 L302.97,38.72 L303.71,35.19 L304.05,31.60 L305.05,27.93 L306.05,24.19 L306.76,20.38 L309.79,16.50 L309.54,12.54" fill="none" stroke="#efa23c" stroke-width="1.25" stroke-linejoin="round"/>
<path d="M63.67,214.10 L64.90,214.09 L66.13,214.07 L67.36,214.05 L68.59,214.03 L69.82,214.02 L71.05,214.00 L72.28,213.98 L73.51,213.96 L74.74,213.95 L75.96,213.93 L77.19,213.91 L78.42,213.89 L79.65,213.87 L80.88,213.86 L82.11,213.84 L83.34,213.82 L84.57,213.80 L85.80,213.78 L87.03,213.77 L88.26,213.75 L89.49,213.73 L90.72,213.71 L91.95,213.69 L93.18,213.67 L94.41,213.65 L95.64,213.64 L96.87,213.62 L98.09,213.60 L99.32,213.58 L100.55,213.56 L101.78,213.54 L103.01,213.52 L104.24,213.50 L105.47,213.48 L106.70,213.46 L107.93,213.43 L109.16,213.41 L110.39,213.39 L111.62,213.37 L112.85,213.35 L114.08,213.32 L115.31,213.30 L116.54,213.28 L117.77,213.25 L119.01,213.23 L120.24,213.20 L121.47,213.17 L122.70,213.15 L123.93,213.12 L125.16,213.09 L126.39,213.06 L127.62,213.03 L128.86,212.99 L130.09,212.96 L131.32,212.93 L132.55,212.89 L133.78,212.85 L135.02,212.81 L136.25,212.77 L137.48,212.73 L138.72,212.68 L139.95,212.64 L141.19,212.59 L142.42,212.53 L143.66,212.48 L144.89,212.42 L146.13,212.36 L147.37,212.29 L148.61,212.22 L149.85,212.15 L151.09,212.07 L152.33,211.99 L153.57,211.90 L154.81,211.81 L156.05,211.71 L157.30,211.60 L158.54,211.49 L159.79,211.37 L161.04,211.24 L162.29,211.10 L163.54,210.96 L164.79,210.80 L166.05,210.63 L167.30,210.45 L168.56,210.25 L169.83,210.04 L171.09,209.82 L172.36,209.58 L173.63,209.32 L174.90,209.04 L176.18,208.74 L177.46,208.42 L178.74,208.07 L179.71,207.79 L180.68,207.50 L181.65,207.19 L182.63,206.86 L183.61,206.52 L184.59,206.15 L185.57,205.77 L186.56,205.36 L187.56,204.93 L188.55,204.47 L189.56,203.99 L190.56,203.47 L191.57,202.93 L192.59,202.36 L193.61,201.75 L194.64,201.11 L195.68,200.43 L196.72,199.72 L197.77,198.96 L198.82,198.15 L199.89,197.30 L200.96,196.40 L202.04,195.45 L203.13,194.44 L203.87,193.73 L204.60,193.00 L205.35,192.23 L206.09,191.44 L206.85,190.62 L207.61,189.77 L208.37,188.88 L209.14,187.96 L209.92,187.00 L210.70,186.00 L211.49,184.97 L212.28,183.90 L213.08,182.78 L213.89,181.62 L214.71,180.42 L215.54,179.16 L216.37,177.86 L217.21,176.51 L218.07,175.11 L218.93,173.65 L219.80,172.13 L220.68,170.56 L221.57,168.92 L222.47,167.22 L223.38,165.46 L223.84,164.55 L224.31,163.62 L224.78,162.68 L225.25,161.72 L225.72,160.73 L226.20,159.73 L226.68,158.71 L227.16,157.67 L227.64,156.62 L228.14,155.53 L228.63,154.43 L229.13,153.31 L229.63,152.17 L230.13,151.00 L230.64,149.81 L231.15,148.60 L231.68,147.37 L232.19,146.11 L232.67,144.82 L233.27,143.51 L233.83,142.18 L234.36,140.82 L234.91,139.43 L235.30,138.02 L235.94,136.58 L236.39,135.11 L237.14,133.62 L237.53,132.09 L238.28,130.54 L238.69,128.95 L239.44,127.33 L239.87,125.69 L240.33,124.01 L241.08,122.30 L241.64,120.55 L242.57,118.77 L242.85,116.96 L243.59,115.11 L244.24,113.22 L245.15,111.30 L245.20,109.34 L246.20,107.35 L246.79,105.31 L247.63,103.24 L248.51,101.12 L248.61,98.97 L249.64,96.77 L250.17,94.53 L250.90,92.25 L251.08,89.92 L252.60,87.55 L253.51,85.13 L253.52,82.66 L254.21,80.15 L255.80,77.58 L255.41,74.97 L256.10,72.31 L256.85,69.59 L258.66,66.82 L259.37,64.00 L259.73,61.13 L260.78,58.19 L260.75,55.20 L262.45,52.16 L263.00,49.05 L263.95,45.88 L264.63,42.66 L265.51,39.37 L266.14,36.01 L266.78,32.59 L268.22,29.11 L268.86,25.55 L270.43,21.93 L271.52,18.24 L272.33,14.47" fill="none" stroke="#d3559b" stroke-width="1.25" stroke-linejoin="round"/>
</g>
<line x1="65.50" y1="14.90" x2="324.00" y2="14.90" stroke="#262626" stroke-width="1.2" />
<line x1="324.00" y1="14.90" x2="324.00" y2="219.10" stroke="#262626" stroke-width="1.2" />
<line x1="65.50" y1="14.30" x2="65.50" y2="222.10" stroke="#222" stroke-width="1.2" />
<line x1="60.00" y1="219.10" x2="324.00" y2="219.10" stroke="#222" stroke-width="1.2" />
<line x1="60.00" y1="219.10" x2="65.50" y2="219.10" stroke="#222" stroke-width="1.1" />
<text x="53.90" y="224.10" font-size="14.4" text-anchor="end" fill="#000" font-weight="normal" >0</text>
<line x1="62.00" y1="193.57" x2="65.50" y2="193.57" stroke="#222" stroke-width="1.1" />
<line x1="60.00" y1="168.05" x2="65.50" y2="168.05" stroke="#222" stroke-width="1.1" />
<text x="53.90" y="173.05" font-size="14.4" text-anchor="end" fill="#000" font-weight="normal" >100</text>
<line x1="62.00" y1="142.52" x2="65.50" y2="142.52" stroke="#222" stroke-width="1.1" />
<line x1="60.00" y1="117.00" x2="65.50" y2="117.00" stroke="#222" stroke-width="1.1" />
<text x="53.90" y="122.00" font-size="14.4" text-anchor="end" fill="#000" font-weight="normal" >200</text>
<line x1="62.00" y1="91.47" x2="65.50" y2="91.47" stroke="#222" stroke-width="1.1" />
<line x1="60.00" y1="65.95" x2="65.50" y2="65.95" stroke="#222" stroke-width="1.1" />
<text x="53.90" y="70.95" font-size="14.4" text-anchor="end" fill="#000" font-weight="normal" >300</text>
<line x1="62.00" y1="40.42" x2="65.50" y2="40.42" stroke="#222" stroke-width="1.1" />
<line x1="60.00" y1="14.90" x2="65.50" y2="14.90" stroke="#222" stroke-width="1.1" />
<text x="53.90" y="19.90" font-size="14.4" text-anchor="end" fill="#000" font-weight="normal" >400</text>
<line x1="65.50" y1="219.10" x2="65.50" y2="222.10" stroke="#222" stroke-width="1.1" />
<line x1="102.43" y1="219.10" x2="102.43" y2="224.40" stroke="#222" stroke-width="1.1" />
<text x="102.43" y="241.80" font-size="14.4" text-anchor="middle" fill="#000" font-weight="normal" >1.4</text>
<line x1="139.36" y1="219.10" x2="139.36" y2="222.10" stroke="#222" stroke-width="1.1" />
<line x1="176.29" y1="219.10" x2="176.29" y2="224.40" stroke="#222" stroke-width="1.1" />
<text x="176.29" y="241.80" font-size="14.4" text-anchor="middle" fill="#000" font-weight="normal" >1.5</text>
<line x1="213.21" y1="219.10" x2="213.21" y2="222.10" stroke="#222" stroke-width="1.1" />
<line x1="250.14" y1="219.10" x2="250.14" y2="224.40" stroke="#222" stroke-width="1.1" />
<text x="250.14" y="241.80" font-size="14.4" text-anchor="middle" fill="#000" font-weight="normal" >1.6</text>
<line x1="287.07" y1="219.10" x2="287.07" y2="222.10" stroke="#222" stroke-width="1.1" />
<line x1="324.00" y1="219.10" x2="324.00" y2="224.40" stroke="#222" stroke-width="1.1" />
<text x="324.00" y="241.80" font-size="14.4" text-anchor="middle" fill="#000" font-weight="normal" >1.7</text>
<text x="109.80" y="265.00" font-size="14.5" text-anchor="start" fill="#000" font-weight="normal" >Potential (V versus RHE)</text>
<text x="0.00" y="0.00" font-size="14.5" text-anchor="middle" fill="#000" font-weight="normal" transform="translate(16.4,117.4) rotate(-90)">Current density (mA cm<tspan font-size="10.2" dx="0.6" dy="-4.2">−2</tspan><tspan dx="0.5" dy="4.2">)</tspan></text>
<line x1="70.10" y1="28.50" x2="102.80" y2="28.50" stroke="#d3559b" stroke-width="1.25" />
<text x="108.00" y="32.00" font-size="12.4" text-anchor="start" fill="#d3559b" font-weight="normal" >EO Co<tspan font-size="9" dy="4.5">3</tspan><tspan dy="-4.5">Mo/Cu</tspan></text>
<line x1="70.10" y1="50.40" x2="102.80" y2="50.40" stroke="#efa23c" stroke-width="1.25" />
<text x="108.00" y="54.40" font-size="12.4" text-anchor="start" fill="#efa23c" font-weight="normal" >EO Co/Cu</text>
<line x1="70.10" y1="68.50" x2="102.80" y2="68.50" stroke="#8c6bb1" stroke-width="1.25" />
<text x="108.00" y="72.40" font-size="12.4" text-anchor="start" fill="#8c6bb1" font-weight="normal" >EO Cu</text>
<line x1="70.10" y1="86.40" x2="102.80" y2="86.40" stroke="#56b435" stroke-width="1.25" />
<text x="108.00" y="90.40" font-size="12.4" text-anchor="start" fill="#56b435" font-weight="normal" >EO Ir/C/Cu</text>
<text x="267.00" y="215.60" font-size="14.4" text-anchor="start" fill="#000" font-weight="normal" >1 mV s<tspan font-size="9.6" dx="0.5" dy="-5.6">−1</tspan></text>
<line x1="418.50" y1="14.90" x2="676.80" y2="14.90" stroke="#262626" stroke-width="1.2" />
<line x1="676.80" y1="14.90" x2="676.80" y2="219.30" stroke="#262626" stroke-width="1.2" />
<line x1="418.50" y1="14.30" x2="418.50" y2="225.50" stroke="#222" stroke-width="1.2" />
<line x1="412.60" y1="219.30" x2="676.80" y2="219.30" stroke="#222" stroke-width="1.2" />
<line x1="412.50" y1="219.30" x2="418.50" y2="219.30" stroke="#222" stroke-width="1.1" />
<text x="406.60" y="224.30" font-size="14.4" text-anchor="end" fill="#000" font-weight="normal" >0.25</text>
<line x1="414.70" y1="196.59" x2="418.50" y2="196.59" stroke="#222" stroke-width="1.1" />
<line x1="412.50" y1="173.88" x2="418.50" y2="173.88" stroke="#222" stroke-width="1.1" />
<text x="406.60" y="178.88" font-size="14.4" text-anchor="end" fill="#000" font-weight="normal" >0.30</text>
<line x1="414.70" y1="151.17" x2="418.50" y2="151.17" stroke="#222" stroke-width="1.1" />
<line x1="412.50" y1="128.46" x2="418.50" y2="128.46" stroke="#222" stroke-width="1.1" />
<text x="406.60" y="133.46" font-size="14.4" text-anchor="end" fill="#000" font-weight="normal" >0.35</text>
<line x1="414.70" y1="105.74" x2="418.50" y2="105.74" stroke="#222" stroke-width="1.1" />
<line x1="412.50" y1="83.03" x2="418.50" y2="83.03" stroke="#222" stroke-width="1.1" />
<text x="406.60" y="88.03" font-size="14.4" text-anchor="end" fill="#000" font-weight="normal" >0.40</text>
<line x1="414.70" y1="60.32" x2="418.50" y2="60.32" stroke="#222" stroke-width="1.1" />
<line x1="412.50" y1="37.61" x2="418.50" y2="37.61" stroke="#222" stroke-width="1.1" />
<text x="406.60" y="42.61" font-size="14.4" text-anchor="end" fill="#000" font-weight="normal" >0.45</text>
<line x1="426.30" y1="219.30" x2="426.30" y2="224.70" stroke="#222" stroke-width="1.1" />
<text x="426.30" y="242.00" font-size="14.4" text-anchor="middle" fill="#000" font-weight="normal" >10</text>
<line x1="477.41" y1="219.30" x2="477.41" y2="222.30" stroke="#222" stroke-width="1.1" />
<line x1="507.32" y1="219.30" x2="507.32" y2="222.30" stroke="#222" stroke-width="1.1" />
<line x1="528.53" y1="219.30" x2="528.53" y2="222.30" stroke="#222" stroke-width="1.1" />
<line x1="544.99" y1="219.30" x2="544.99" y2="222.30" stroke="#222" stroke-width="1.1" />
<line x1="558.43" y1="219.30" x2="558.43" y2="222.30" stroke="#222" stroke-width="1.1" />
<line x1="569.80" y1="219.30" x2="569.80" y2="222.30" stroke="#222" stroke-width="1.1" />
<line x1="579.64" y1="219.30" x2="579.64" y2="222.30" stroke="#222" stroke-width="1.1" />
<line x1="588.33" y1="219.30" x2="588.33" y2="222.30" stroke="#222" stroke-width="1.1" />
<line x1="596.10" y1="219.30" x2="596.10" y2="224.70" stroke="#222" stroke-width="1.1" />
<text x="596.10" y="242.00" font-size="14.4" text-anchor="middle" fill="#000" font-weight="normal" >100</text>
<line x1="647.21" y1="219.30" x2="647.21" y2="222.30" stroke="#222" stroke-width="1.1" />
<line x1="677.12" y1="219.30" x2="677.12" y2="222.30" stroke="#222" stroke-width="1.1" />
<text x="463.00" y="262.20" font-size="14.5" text-anchor="start" fill="#000" font-weight="normal" >Current density (mA cm<tspan font-size="10.2" dx="0.6" dy="-4.2">−2</tspan><tspan dx="0.5" dy="4.2">)</tspan></text>
<text x="0.00" y="0.00" font-size="14.5" text-anchor="middle" fill="#000" font-weight="normal" transform="translate(367.0,123.2) rotate(-90)">Overpotential (V)</text>
<path d="M509.10,97.10 L511.15,96.04 L513.99,94.58 L517.34,92.84 L520.97,90.97 L524.61,89.08 L528.00,87.30 L531.19,85.62 L534.39,83.93 L537.60,82.23 L540.82,80.50 L544.06,78.76 L547.30,77.00 L550.55,75.23 L553.79,73.46 L557.04,71.67 L560.32,69.84 L563.64,67.96 L567.00,66.00 L570.45,63.94 L573.98,61.80 L577.55,59.59 L581.11,57.37 L584.61,55.16 L588.00,53.00 L591.49,50.74 L595.16,48.33 L598.76,45.94 L602.08,43.72 L604.87,41.85 L606.90,40.50" fill="none" stroke="#8c6bb1" stroke-width="1.3" stroke-linejoin="round"/>
<path d="M509.10,111.10 L511.36,109.96 L514.48,108.40 L518.18,106.54 L522.18,104.53 L526.21,102.51 L530.00,100.60 L533.61,98.79 L537.27,96.95 L540.96,95.10 L544.66,93.24 L548.34,91.37 L552.00,89.50 L555.68,87.60 L559.42,85.67 L563.15,83.73 L566.80,81.82 L570.31,79.96 L573.60,78.20 L576.77,76.47 L579.89,74.73 L582.86,73.06 L585.60,71.50 L588.01,70.13 L590.00,69.00 L591.44,68.18 L592.38,67.62 L592.99,67.24 L593.44,66.97 L593.92,66.72 L594.60,66.40 L595.42,66.08 L596.23,65.82 L597.07,65.58 L597.96,65.31 L598.92,64.97 L600.00,64.50 L601.31,63.82 L602.86,62.97 L604.49,62.03 L606.04,61.12 L607.36,60.34 L608.30,59.80" fill="none" stroke="#56b435" stroke-width="1.3" stroke-linejoin="round"/>
<path d="M510.50,145.80 L512.38,145.05 L514.97,144.02 L518.04,142.79 L521.39,141.46 L524.78,140.10 L528.00,138.80 L531.05,137.57 L534.11,136.36 L537.21,135.11 L540.41,133.81 L543.76,132.42 L547.30,130.90 L551.14,129.20 L555.27,127.34 L559.55,125.39 L563.83,123.41 L567.96,121.49 L571.80,119.70 L575.50,117.94 L579.20,116.14 L582.76,114.39 L586.03,112.79 L588.86,111.43 L591.10,110.40 L592.49,109.86 L593.08,109.77 L593.24,109.92 L593.31,110.10 L593.64,110.10 L594.60,109.70 L596.38,108.78 L598.74,107.49 L601.37,106.01 L603.95,104.54 L606.16,103.27 L607.70,102.40" fill="none" stroke="#efa23c" stroke-width="1.3" stroke-linejoin="round"/>
<path d="M509.10,183.50 L511.15,182.58 L513.99,181.30 L517.34,179.78 L520.97,178.15 L524.61,176.52 L528.00,175.00 L531.20,173.57 L534.43,172.13 L537.66,170.69 L540.90,169.26 L544.11,167.86 L547.30,166.50 L550.46,165.19 L553.60,163.93 L556.72,162.69 L559.83,161.47 L562.92,160.24 L566.00,159.00 L569.12,157.71 L572.31,156.39 L575.48,155.07 L578.55,153.77 L581.45,152.54 L584.10,151.40 L586.43,150.38 L588.50,149.45 L590.39,148.59 L592.21,147.75 L594.05,146.90 L596.00,146.00 L598.21,144.99 L600.61,143.88 L603.04,142.76 L605.31,141.72 L607.22,140.84 L608.60,140.20" fill="none" stroke="#d3559b" stroke-width="1.3" stroke-linejoin="round"/>
<text x="499.60" y="100.80" font-size="12.4" text-anchor="end" fill="#8c6bb1" font-weight="normal" >EO Cu</text>
<text x="497.00" y="125.50" font-size="12.4" text-anchor="end" fill="#56b435" font-weight="normal" >EO Ir/C/Cu</text>
<text x="497.00" y="157.70" font-size="12.4" text-anchor="end" fill="#efa23c" font-weight="normal" >EO Co/Cu</text>
<text x="430.60" y="198.20" font-size="12.4" text-anchor="start" fill="#d3559b" font-weight="normal" >EO Co<tspan font-size="9" dy="4.5">3</tspan><tspan dy="-4.5">Mo/Cu</tspan></text>
<text x="589.00" y="38.40" font-size="12.4" text-anchor="start" fill="#8c6bb1" font-weight="normal" >100 mV dec<tspan font-size="8.2" dx="0.6" dy="-5.2">−1</tspan></text>
<text x="595.30" y="59.40" font-size="12.4" text-anchor="start" fill="#56b435" font-weight="normal" >97 mV dec<tspan font-size="8.2" dx="0.6" dy="-5.2">−1</tspan></text>
<text x="595.30" y="93.20" font-size="12.4" text-anchor="start" fill="#efa23c" font-weight="normal" >85 mV dec<tspan font-size="8.2" dx="0.6" dy="-5.2">−1</tspan></text>
<text x="595.30" y="131.70" font-size="12.4" text-anchor="start" fill="#d3559b" font-weight="normal" >82 mV dec<tspan font-size="8.2" dx="0.6" dy="-5.2">−1</tspan></text>
<rect x="81.9" y="333.5" width="32.30" height="167.70" fill="#d3559b"/>
<rect x="146.1" y="443.9" width="32.80" height="57.30" fill="#efa23c"/>
<rect x="210.7" y="485.9" width="32.80" height="15.30" fill="#8c6bb1"/>
<rect x="275.4" y="478.9" width="32.50" height="22.30" fill="#56b435"/>
<line x1="65.50" y1="297.20" x2="324.00" y2="297.20" stroke="#262626" stroke-width="1.2" />
<line x1="324.00" y1="297.20" x2="324.00" y2="501.20" stroke="#262626" stroke-width="1.2" />
<line x1="65.50" y1="296.60" x2="65.50" y2="501.20" stroke="#222" stroke-width="1.2" />
<line x1="60.00" y1="501.20" x2="324.00" y2="501.20" stroke="#222" stroke-width="1.2" />
<line x1="60.00" y1="501.20" x2="65.50" y2="501.20" stroke="#222" stroke-width="1.1" />
<text x="53.60" y="506.20" font-size="14.4" text-anchor="end" fill="#000" font-weight="normal" >0</text>
<line x1="62.50" y1="475.70" x2="65.50" y2="475.70" stroke="#222" stroke-width="1.1" />
<line x1="60.00" y1="450.20" x2="65.50" y2="450.20" stroke="#222" stroke-width="1.1" />
<text x="53.60" y="455.20" font-size="14.4" text-anchor="end" fill="#000" font-weight="normal" >50</text>
<line x1="62.50" y1="424.70" x2="65.50" y2="424.70" stroke="#222" stroke-width="1.1" />
<line x1="60.00" y1="399.20" x2="65.50" y2="399.20" stroke="#222" stroke-width="1.1" />
<text x="53.60" y="404.20" font-size="14.4" text-anchor="end" fill="#000" font-weight="normal" >100</text>
<line x1="62.50" y1="373.70" x2="65.50" y2="373.70" stroke="#222" stroke-width="1.1" />
<line x1="60.00" y1="348.20" x2="65.50" y2="348.20" stroke="#222" stroke-width="1.1" />
<text x="53.60" y="353.20" font-size="14.4" text-anchor="end" fill="#000" font-weight="normal" >150</text>
<line x1="62.50" y1="322.70" x2="65.50" y2="322.70" stroke="#222" stroke-width="1.1" />
<line x1="60.00" y1="297.20" x2="65.50" y2="297.20" stroke="#222" stroke-width="1.1" />
<text x="53.60" y="302.20" font-size="14.4" text-anchor="end" fill="#000" font-weight="normal" >200</text>
<text x="0.00" y="0.00" font-size="14.5" text-anchor="middle" fill="#000" font-weight="normal" transform="translate(18.4,399.2) rotate(-90)">Current density (mA cm<tspan font-size="10.2" dx="0.6" dy="-4.2">−2</tspan><tspan dx="0.5" dy="4.2">)</tspan></text>
<text x="69.00" y="323.10" font-size="12.4" text-anchor="start" fill="#d3559b" font-weight="normal" >EO Co<tspan font-size="9" dy="4.5">3</tspan><tspan dy="-4.5">Mo/Cu</tspan></text>
<text x="162.90" y="434.70" font-size="12.4" text-anchor="middle" fill="#efa23c" font-weight="normal" >EO Co/Cu</text>
<text x="225.20" y="482.80" font-size="12.4" text-anchor="middle" fill="#8c6bb1" font-weight="normal" >EO Cu</text>
<text x="282.50" y="470.60" font-size="12.4" text-anchor="middle" fill="#56b435" font-weight="normal" >EO Ir/C/Cu</text>
<line x1="504.53" y1="302.90" x2="504.53" y2="501.80" stroke="#9a9a9a" stroke-width="1.2" stroke-dasharray="5 4.7"/>
<line x1="590.77" y1="302.90" x2="590.77" y2="501.80" stroke="#9a9a9a" stroke-width="1.2" stroke-dasharray="5 4.7"/>
<line x1="418.30" y1="297.50" x2="677.00" y2="297.50" stroke="#262626" stroke-width="1.2" />
<line x1="677.00" y1="297.50" x2="677.00" y2="501.80" stroke="#262626" stroke-width="1.2" />
<line x1="418.30" y1="296.90" x2="418.30" y2="507.30" stroke="#222" stroke-width="1.2" />
<line x1="412.60" y1="501.80" x2="677.00" y2="501.80" stroke="#222" stroke-width="1.2" />
<line x1="412.50" y1="501.80" x2="418.30" y2="501.80" stroke="#222" stroke-width="1.1" />
<text x="406.40" y="506.80" font-size="14.4" text-anchor="end" fill="#000" font-weight="normal" >0</text>
<line x1="415.10" y1="476.26" x2="418.30" y2="476.26" stroke="#222" stroke-width="1.1" />
<line x1="412.50" y1="450.73" x2="418.30" y2="450.73" stroke="#222" stroke-width="1.1" />
<text x="406.40" y="455.73" font-size="14.4" text-anchor="end" fill="#000" font-weight="normal" >100</text>
<line x1="415.10" y1="425.19" x2="418.30" y2="425.19" stroke="#222" stroke-width="1.1" />
<line x1="412.50" y1="399.65" x2="418.30" y2="399.65" stroke="#222" stroke-width="1.1" />
<text x="406.40" y="404.65" font-size="14.4" text-anchor="end" fill="#000" font-weight="normal" >200</text>
<line x1="415.10" y1="374.11" x2="418.30" y2="374.11" stroke="#222" stroke-width="1.1" />
<line x1="412.50" y1="348.58" x2="418.30" y2="348.58" stroke="#222" stroke-width="1.1" />
<text x="406.40" y="353.58" font-size="14.4" text-anchor="end" fill="#000" font-weight="normal" >300</text>
<line x1="415.10" y1="323.04" x2="418.30" y2="323.04" stroke="#222" stroke-width="1.1" />
<line x1="412.50" y1="297.50" x2="418.30" y2="297.50" stroke="#222" stroke-width="1.1" />
<text x="406.40" y="302.50" font-size="14.4" text-anchor="end" fill="#000" font-weight="normal" >400</text>
<line x1="418.30" y1="501.80" x2="418.30" y2="507.30" stroke="#222" stroke-width="1.1" />
<text x="418.30" y="523.70" font-size="14.4" text-anchor="middle" fill="#000" font-weight="normal" >0</text>
<line x1="461.42" y1="501.80" x2="461.42" y2="504.80" stroke="#222" stroke-width="1.1" />
<line x1="504.53" y1="501.80" x2="504.53" y2="507.30" stroke="#222" stroke-width="1.1" />
<text x="504.53" y="523.70" font-size="14.4" text-anchor="middle" fill="#000" font-weight="normal" >10</text>
<line x1="547.65" y1="501.80" x2="547.65" y2="504.80" stroke="#222" stroke-width="1.1" />
<line x1="590.77" y1="501.80" x2="590.77" y2="507.30" stroke="#222" stroke-width="1.1" />
<text x="590.77" y="523.70" font-size="14.4" text-anchor="middle" fill="#000" font-weight="normal" >20</text>
<line x1="633.88" y1="501.80" x2="633.88" y2="504.80" stroke="#222" stroke-width="1.1" />
<line x1="677.00" y1="501.80" x2="677.00" y2="507.30" stroke="#222" stroke-width="1.1" />
<text x="677.00" y="523.70" font-size="14.4" text-anchor="middle" fill="#000" font-weight="normal" >30</text>
<path d="M414.60,458.30 L422.30,458.30 L422.30,463.10 L440.00,464.60 L455.00,467.10 L468.10,467.80 L468.10,465.70 L476.00,465.90 L490.00,466.80 L508.40,468.00 L508.40,475.80 L490.00,475.20 L476.00,474.70 L476.00,476.50 L468.00,476.50 L455.00,475.60 L440.00,473.90 L422.30,472.30 L414.60,471.50 Z" fill="#d3559b"/>
<path d="M500.90,421.90 L520.00,422.80 L546.00,423.90 L568.10,423.50 L568.10,421.90 L585.40,421.60 L594.50,421.20 L594.50,430.50 L575.20,431.50 L575.20,432.90 L548.00,433.30 L520.00,432.50 L500.90,431.50 Z" fill="#d3559b"/>
<path d="M589.00,308.60 L592.70,308.60 L592.70,313.10 L600.00,313.40 L610.00,312.60 L620.00,312.90 L635.00,312.00 L645.00,313.30 L655.20,315.10 L665.30,315.50 L667.60,313.20 L678.80,312.40 L678.80,321.30 L670.00,323.20 L665.00,325.50 L655.20,324.40 L645.00,323.60 L632.00,322.40 L615.00,322.50 L605.00,323.40 L592.00,323.40 L589.00,320.40 Z" fill="#d3559b"/>
<text x="521.60" y="544.60" font-size="14.5" text-anchor="start" fill="#000" font-weight="normal" >Time (h)</text>
<text x="0.00" y="0.00" font-size="14.5" text-anchor="middle" fill="#000" font-weight="normal" transform="translate(368.8,400.0) rotate(-90)">Current density (mA cm<tspan font-size="10.2" dx="0.6" dy="-4.2">−2</tspan><tspan dx="0.5" dy="4.2">)</tspan></text>
<text x="437.60" y="461.40" font-size="12.4" text-anchor="start" fill="#2e3f73" font-weight="normal" >300 mV</text>
<text x="523.40" y="419.00" font-size="12.4" text-anchor="start" fill="#2e3f73" font-weight="normal" >350 mV</text>
<text x="610.20" y="310.50" font-size="12.4" text-anchor="start" fill="#2e3f73" font-weight="normal" >400 mV</text>
</svg>
</body></html>
